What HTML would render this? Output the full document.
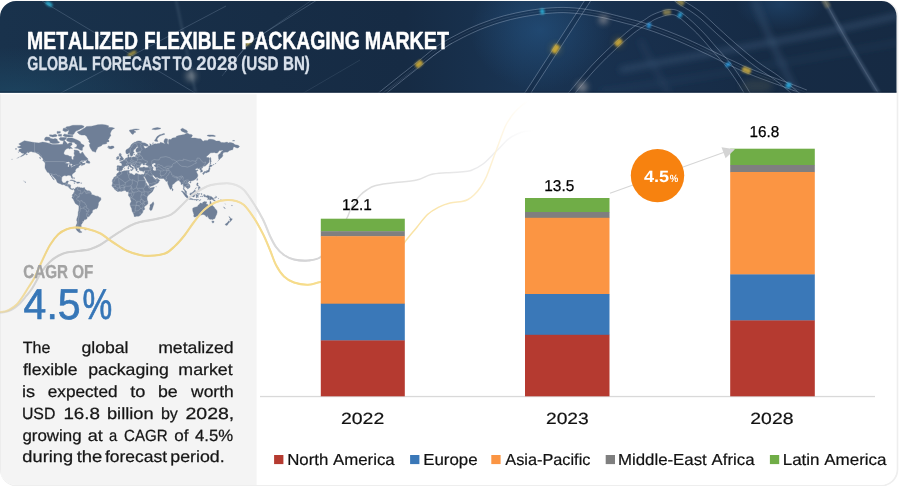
<!DOCTYPE html>
<html lang="en">
<head>
<meta charset="utf-8">
<title>Metalized Flexible Packaging Market</title>
<style>
html,body{margin:0;padding:0;background:#fff;}
body{width:900px;height:486px;overflow:hidden;position:relative;}
svg{display:block;position:absolute;left:0;top:0;}
text{font-family:"Liberation Sans",Arial,sans-serif;font-kerning:none;white-space:pre;text-rendering:geometricPrecision;}
</style>
</head>
<body>
<svg width="900" height="486" viewBox="0 0 900 486">
<defs>
<clipPath id="card"><path d="M0 17A16 16 0 0 1 16 1H881.5A15 15 0 0 1 896.5 16V469A16 16 0 0 1 880.5 485H16A16 16 0 0 1 0 469Z"/></clipPath>
<clipPath id="leftclip"><rect x="0" y="90" width="335" height="300"/></clipPath>
<clipPath id="hdr"><path d="M0 17A16 16 0 0 1 16 1H881.5A15 15 0 0 1 896.5 16V92.7H0Z"/></clipPath>
<linearGradient id="hg" x1="0" y1="0" x2="1" y2="0">
<stop offset="0" stop-color="#19324c"/><stop offset="0.3" stop-color="#172d46"/><stop offset="0.45" stop-color="#162b44"/><stop offset="0.58" stop-color="#193453"/><stop offset="0.72" stop-color="#182f4c"/><stop offset="0.85" stop-color="#162b45"/><stop offset="1" stop-color="#162a43"/>
</linearGradient>
<radialGradient id="glowL" cx="0.05" cy="1" r="0.5"><stop offset="0" stop-color="#1f4f6c" stop-opacity=".55"/><stop offset="1" stop-color="#1f4f6c" stop-opacity="0"/></radialGradient>
<radialGradient id="glowM" cx="0.5" cy="0.5" r="0.5"><stop offset="0" stop-color="#27598a" stop-opacity=".55"/><stop offset="1" stop-color="#27598a" stop-opacity="0"/></radialGradient>
<linearGradient id="gg" gradientUnits="userSpaceOnUse" x1="0" y1="0" x2="540" y2="0"><stop offset="0.000" stop-color="#d2d2d2" stop-opacity="0.45"/><stop offset="0.056" stop-color="#d0d0d0" stop-opacity="0.7"/><stop offset="0.111" stop-color="#cfcfcf" stop-opacity="1"/><stop offset="0.185" stop-color="#d1d1d1" stop-opacity="1"/><stop offset="0.315" stop-color="#d6d6d6" stop-opacity="1"/><stop offset="0.398" stop-color="#e0e0e0" stop-opacity="1"/><stop offset="0.444" stop-color="#e3e3e3" stop-opacity="1"/><stop offset="0.485" stop-color="#dcdcdc" stop-opacity="1"/><stop offset="0.556" stop-color="#d4d4d6" stop-opacity="1"/><stop offset="0.648" stop-color="#dadada" stop-opacity="1"/><stop offset="0.796" stop-color="#e4e4e4" stop-opacity="1"/><stop offset="0.907" stop-color="#ececee" stop-opacity="1"/><stop offset="0.991" stop-color="#f6f6f6" stop-opacity="0"/></linearGradient>
<linearGradient id="yg" gradientUnits="userSpaceOnUse" x1="0" y1="0" x2="540" y2="0"><stop offset="0.000" stop-color="#f0d68a" stop-opacity="0.4"/><stop offset="0.056" stop-color="#f0d68a" stop-opacity="0.65"/><stop offset="0.111" stop-color="#f0d482" stop-opacity="1"/><stop offset="0.185" stop-color="#f2d88c" stop-opacity="1"/><stop offset="0.315" stop-color="#f0d684" stop-opacity="1"/><stop offset="0.398" stop-color="#f3db96" stop-opacity="1"/><stop offset="0.444" stop-color="#f4dd9c" stop-opacity="1"/><stop offset="0.485" stop-color="#f5dc90" stop-opacity="1"/><stop offset="0.556" stop-color="#f6dc8a" stop-opacity="1"/><stop offset="0.648" stop-color="#f8e09a" stop-opacity="1"/><stop offset="0.796" stop-color="#fae4a8" stop-opacity="1"/><stop offset="0.907" stop-color="#fdf0d0" stop-opacity="1"/><stop offset="0.981" stop-color="#fff8ea" stop-opacity="0"/></linearGradient>
<filter id="b1" x="-20%" y="-20%" width="140%" height="140%"><feGaussianBlur stdDeviation="1.2"/></filter>
<filter id="b0" x="-5%" y="-5%" width="110%" height="110%"><feGaussianBlur stdDeviation="0.45"/></filter>
<filter id="b3" x="-20%" y="-20%" width="140%" height="140%"><feGaussianBlur stdDeviation="3"/></filter>
<filter id="b6" x="-30%" y="-30%" width="160%" height="160%"><feGaussianBlur stdDeviation="5"/></filter>
</defs>

<!-- card -->
<path d="M0 17A16 16 0 0 1 16 1H881.5A15 15 0 0 1 896.5 16V469A16 16 0 0 1 880.5 485H16A16 16 0 0 1 0 469Z" transform="translate(0.9 0.6)" fill="#ffffff" stroke="#eeeeee" stroke-width="1.8"/>
<g clip-path="url(#card)">
<rect x="0" y="0" width="900" height="486" fill="#ffffff"/>
<rect x="0" y="94.3" width="256.6" height="392" fill="#f4f4f4"/>
<rect x="0" y="94.3" width="0.7" height="392" fill="#e9e9e9"/>
</g>

<!-- header -->
<g clip-path="url(#hdr)">
<rect x="0" y="0" width="900" height="93" fill="url(#hg)"/>
<rect x="0" y="0" width="300" height="93" fill="url(#glowL)"/>
<ellipse cx="540" cy="30" rx="70" ry="60" fill="url(#glowM)"/>
<ellipse cx="780" cy="4" rx="45" ry="26" fill="url(#glowM)" opacity=".75"/>
<g id="streaks" fill="none">
<!-- blurred wide bands (right) -->
<g filter="url(#b3)" stroke="#3b5878" stroke-opacity=".55" stroke-width="5">
<path d="M620 70C700 54 800 40 900 15" stroke-opacity=".6"/>
<path d="M754 0C766 30 780 62 798 96" stroke-opacity=".5"/>
<path d="M600 92C690 80 800 60 900 42" stroke-opacity=".2"/>
<path d="M640 40C650 60 660 78 670 96" stroke-opacity=".25"/>
</g>
<!-- left thin streaks -->
<g stroke="#9db4cc" stroke-opacity=".28" stroke-width=".9">
<path d="M42 1L195 93"/>
<path d="M57 95L135 54L226 6"/>
<path d="M176 0L196 95" stroke-opacity=".13" stroke-width="3" filter="url(#b1)"/>
<path d="M225 72L250 42L317 0" stroke-width="1"/>
<path d="M222 76L247 45L312 0" stroke-opacity=".2"/>
<path d="M380 95C400 82 425 60 452 43"/>
<path d="M300 95L360 60" stroke-opacity=".15"/>
</g>
<!-- tubes (right half) -->
<path d="M380.0 95.0L382.7 92.8L386.6 89.7L391.1 86.1L395.7 82.4L400.0 79.0L403.8 76.0L407.6 73.0L411.3 70.1L415.1 67.1L419.0 64.0L423.1 60.7L427.2 57.3L431.4 53.9L435.7 50.6L440.0 47.5L444.3 44.7L448.7 42.1L453.2 39.6L457.6 37.3L462.0 35.0L466.3 32.8L470.6 30.8L474.9 28.9L479.3 27.0L484.0 25.2L488.9 23.4L493.9 21.7L499.0 20.0L504.4 18.4L510.0 17.0L515.9 15.6L522.2 14.4L528.6 13.2L534.9 12.2L541.0 11.4L546.7 10.8L552.2 10.4L557.7 10.1L563.1 10.0L568.7 10.2L574.5 10.6L580.3 11.2L586.2 12.0L592.1 13.0L598.0 14.0L603.9 15.2L610.0 16.6L615.9 18.1L621.7 19.6L627.0 21.0L631.7 22.2L635.9 23.3L640.0 24.4L644.2 25.6L649.0 27.2L654.5 29.1L660.5 31.2L666.7 33.6L672.9 36.0L679.0 38.5L685.1 41.1L691.3 43.9L697.4 46.8L703.2 49.5L708.4 52.0L713.0 54.2L717.0 56.1L720.7 58.0L724.3 59.7L728.0 61.5L731.7 63.3L735.4 65.0L739.0 66.7L742.7 68.3L746.5 70.0L750.5 71.6L754.5 73.2L758.6 74.8L762.8 76.4L767.0 78.0L771.3 79.6L775.7 81.2L780.1 82.8L784.4 84.3L788.5 85.8L792.5 87.3L796.6 88.9L800.5 90.4L803.7 91.6L806.0 92.5M522.0 102.0L526.6 94.9L533.2 84.8L540.8 73.0L548.7 60.8L556.0 49.5L563.3 38.2L571.2 26.0L578.8 14.2L585.4 4.1L590.0 -3.0M566.0 100.0L566.7 99.2L567.5 98.1L568.6 96.7L570.3 94.8L572.6 92.0L575.8 88.2L579.8 83.3L584.2 78.1L588.7 72.8L593.0 68.0L597.0 63.8L600.9 59.7L604.9 55.8L608.8 52.1L612.7 48.4L616.7 44.7L620.7 41.0L624.7 37.5L628.5 34.2L632.0 31.3L635.2 28.9L638.2 26.8L641.0 25.1L643.6 23.5L646.0 22.0L648.0 20.6L649.7 19.5L651.3 18.4L652.9 17.5L655.0 16.5L657.6 15.4L660.5 14.3L663.6 13.3L666.6 12.5L669.3 12.1L671.5 12.0L673.5 12.1L675.3 12.5L677.4 13.4L680.0 15.0L683.3 17.4L687.0 20.5L691.0 24.1L694.9 27.7L698.6 31.3L701.9 34.8L705.1 38.3L708.2 41.9L711.2 45.4L714.2 48.8L717.1 52.1L720.0 55.3L722.9 58.5L725.5 61.5L728.0 64.5L730.2 67.3L732.2 70.0L734.1 72.7L735.9 75.3L737.7 78.0L739.6 80.9L741.5 83.9L743.3 86.8L745.0 89.6L746.5 92.0L747.7 94.1L748.8 96.0L749.7 97.7L750.5 99.0L751.0 100.0M672.0 -5.0L672.8 -4.3L673.7 -3.4L675.0 -2.2L676.7 -0.7L679.0 1.0L682.1 3.0L685.9 5.4L690.2 7.9L694.5 10.7L698.6 13.7L702.5 16.9L706.4 20.4L710.2 24.0L714.1 27.7L718.0 31.3L721.9 34.8L725.9 38.4L729.8 41.9L733.8 45.4L737.7 48.8L741.6 52.1L745.4 55.3L749.3 58.5L753.1 61.5L757.0 64.5L761.0 67.3L765.0 70.0L769.0 72.7L773.0 75.3L776.8 78.0L780.6 80.9L784.4 84.0L788.1 87.0L791.3 89.8L794.0 92.0L796.0 93.7L797.5 94.9L798.6 95.8L799.4 96.5L800.0 97.0" stroke="#10223a" stroke-opacity=".28" stroke-width="5"/>
<path d="M381.6 97.0L384.4 94.8L388.2 91.7L392.7 88.1L397.4 84.4L401.6 81.0L405.4 78.0L409.2 75.0L412.9 72.1L416.7 69.1L420.6 66.0L424.7 62.7L428.9 59.3L433.0 55.9L437.3 52.7L441.5 49.7L445.7 46.9L450.0 44.3L454.4 41.9L458.8 39.6L463.2 37.3L467.5 35.2L471.7 33.2L475.9 31.3L480.3 29.4L484.9 27.6L489.7 25.9L494.7 24.1L499.8 22.5L505.1 21.0L510.6 19.5L516.5 18.2L522.7 16.9L529.0 15.8L535.3 14.8L541.3 14.0L547.0 13.4L552.4 13.0L557.7 12.7L563.1 12.6L568.6 12.8L574.2 13.2L580.0 13.8L585.8 14.6L591.7 15.5L597.5 16.6L603.4 17.7L609.3 19.1L615.3 20.6L621.0 22.1L626.3 23.5L631.1 24.7L635.3 25.8L639.2 26.9L643.4 28.1L648.2 29.7L653.6 31.5L659.6 33.7L665.7 36.0L671.9 38.4L678.0 40.9L684.0 43.5L690.2 46.3L696.3 49.1L702.0 51.9L707.3 54.3L711.8 56.5L715.9 58.5L719.6 60.3L723.2 62.1L726.9 63.8L730.6 65.6L734.3 67.3L737.9 69.0L741.6 70.7L745.5 72.4L749.5 74.0L753.6 75.7L757.7 77.3L761.9 78.9L766.1 80.4L770.4 82.0L774.8 83.6L779.3 85.2L783.6 86.8L787.6 88.2L791.6 89.7L795.7 91.3L799.5 92.8L802.7 94.0L805.1 94.9M378.4 93.0L381.1 90.8L385.0 87.7L389.5 84.1L394.1 80.4L398.4 77.0L402.2 73.9L406.0 71.0L409.7 68.0L413.5 65.0L417.4 62.0L421.4 58.7L425.6 55.3L429.8 51.8L434.2 48.5L438.5 45.3L443.0 42.5L447.4 39.8L451.9 37.3L456.4 35.0L460.8 32.7L465.2 30.5L469.5 28.4L473.9 26.5L478.4 24.6L483.1 22.8L488.0 21.0L493.0 19.2L498.3 17.5L503.7 15.9L509.4 14.5L515.4 13.1L521.7 11.8L528.2 10.6L534.6 9.6L540.7 8.8L546.5 8.2L552.1 7.8L557.6 7.5L563.1 7.4L568.8 7.6L574.7 8.0L580.6 8.6L586.6 9.4L592.6 10.4L598.5 11.4L604.5 12.7L610.6 14.1L616.6 15.6L622.3 17.1L627.7 18.5L632.4 19.7L636.6 20.8L640.7 21.9L645.0 23.2L649.8 24.7L655.4 26.6L661.4 28.8L667.6 31.1L673.9 33.6L680.0 36.1L686.1 38.7L692.4 41.6L698.5 44.4L704.3 47.2L709.5 49.7L714.1 51.8L718.1 53.8L721.9 55.6L725.4 57.4L729.1 59.2L732.9 60.9L736.5 62.6L740.1 64.3L743.7 66.0L747.5 67.6L751.4 69.2L755.5 70.8L759.6 72.4L763.7 74.0L767.9 75.6L772.2 77.1L776.6 78.7L781.0 80.3L785.3 81.9L789.4 83.4L793.5 84.9L797.6 86.5L801.4 87.9L804.6 89.2L806.9 90.1M524.2 103.4L528.8 96.3L535.3 86.2L543.0 74.4L550.8 62.3L558.2 50.9L565.5 39.6L573.4 27.4L581.0 15.6L587.6 5.6L592.2 -1.6M519.8 100.6L524.4 93.4L531.0 83.4L538.6 71.6L546.5 59.4L553.8 48.1L561.2 36.7L569.0 24.6L576.7 12.8L583.2 2.7L587.8 -4.4M568.0 101.6L568.7 100.8L569.5 99.8L570.7 98.4L572.3 96.4L574.6 93.7L577.8 89.8L581.8 85.0L586.2 79.7L590.7 74.5L594.9 69.8L598.9 65.6L602.8 61.6L606.7 57.7L610.6 54.0L614.5 50.3L618.4 46.6L622.4 42.9L626.4 39.4L630.2 36.2L633.6 33.3L636.7 31.0L639.6 29.0L642.4 27.3L645.0 25.7L647.4 24.2L649.5 22.8L651.2 21.6L652.6 20.6L654.1 19.8L656.0 18.9L658.5 17.8L661.4 16.8L664.3 15.8L667.1 15.0L669.6 14.7L671.5 14.6L673.1 14.7L674.5 15.0L676.2 15.7L678.5 17.2L681.7 19.4L685.3 22.5L689.2 26.0L693.2 29.6L696.8 33.1L700.0 36.5L703.2 40.0L706.3 43.6L709.3 47.1L712.2 50.5L715.2 53.8L718.1 57.1L720.9 60.2L723.6 63.2L726.0 66.1L728.1 68.9L730.1 71.6L731.9 74.2L733.7 76.8L735.5 79.4L737.4 82.3L739.3 85.2L741.1 88.2L742.8 90.9L744.3 93.3L745.5 95.4L746.6 97.3L747.4 98.9L748.2 100.2L748.7 101.2M564.0 98.4L564.7 97.5L565.5 96.5L566.6 95.1L568.3 93.1L570.6 90.3L573.8 86.5L577.8 81.7L582.2 76.4L586.8 71.1L591.1 66.2L595.1 62.0L599.1 57.9L603.1 54.0L607.0 50.2L610.9 46.5L614.9 42.8L619.0 39.1L623.0 35.5L626.8 32.2L630.4 29.3L633.7 26.8L636.8 24.7L639.6 22.9L642.2 21.3L644.6 19.8L646.6 18.5L648.2 17.3L649.9 16.2L651.7 15.2L654.0 14.1L656.6 13.0L659.6 11.9L662.8 10.8L666.1 9.9L669.0 9.5L671.5 9.4L673.8 9.5L676.2 10.1L678.6 11.1L681.5 12.8L684.9 15.3L688.7 18.5L692.8 22.1L696.7 25.9L700.4 29.5L703.8 33.0L707.1 36.6L710.2 40.2L713.2 43.7L716.2 47.1L719.1 50.4L722.0 53.6L724.8 56.7L727.5 59.8L730.0 62.9L732.3 65.8L734.3 68.5L736.2 71.2L738.0 73.8L739.9 76.6L741.8 79.5L743.7 82.5L745.5 85.4L747.2 88.2L748.7 90.7L750.0 92.8L751.1 94.7L752.0 96.4L752.7 97.8L753.3 98.8M670.2 -3.1L670.9 -2.4L671.9 -1.5L673.2 -0.2L675.1 1.3L677.5 3.1L680.7 5.2L684.6 7.6L688.8 10.1L693.0 12.9L697.0 15.8L700.8 18.9L704.6 22.3L708.4 25.9L712.3 29.6L716.2 33.2L720.2 36.8L724.1 40.3L728.1 43.9L732.1 47.4L736.0 50.8L739.9 54.1L743.8 57.3L747.6 60.5L751.5 63.6L755.5 66.6L759.5 69.5L763.6 72.2L767.6 74.8L771.5 77.4L775.3 80.1L779.0 83.0L782.8 86.0L786.4 89.0L789.7 91.8L792.3 94.0L794.4 95.7L795.8 96.9L796.9 97.8L797.7 98.5L798.3 99.0M673.8 -6.9L674.6 -6.2L675.5 -5.2L676.7 -4.1L678.3 -2.8L680.5 -1.1L683.5 0.8L687.3 3.1L691.6 5.7L696.0 8.6L700.2 11.6L704.2 14.9L708.1 18.5L712.0 22.1L715.9 25.8L719.8 29.4L723.7 32.9L727.6 36.5L731.6 40.0L735.5 43.5L739.4 46.8L743.3 50.1L747.1 53.3L750.9 56.4L754.7 59.5L758.5 62.4L762.4 65.2L766.4 67.9L770.5 70.5L774.5 73.2L778.3 75.9L782.2 78.9L786.1 82.0L789.7 85.0L793.0 87.8L795.7 90.0L797.7 91.7L799.2 92.9L800.2 93.8L801.0 94.5L801.7 95.0" stroke="#b4c6da" stroke-opacity=".36" stroke-width="1" filter="url(#b0)"/>
<path d="M380.0 95.0L382.7 92.8L386.6 89.7L391.1 86.1L395.7 82.4L400.0 79.0L403.8 76.0L407.6 73.0L411.3 70.1L415.1 67.1L419.0 64.0L423.1 60.7L427.2 57.3L431.4 53.9L435.7 50.6L440.0 47.5L444.3 44.7L448.7 42.1L453.2 39.6L457.6 37.3L462.0 35.0L466.3 32.8L470.6 30.8L474.9 28.9L479.3 27.0L484.0 25.2L488.9 23.4L493.9 21.7L499.0 20.0L504.4 18.4L510.0 17.0L515.9 15.6L522.2 14.4L528.6 13.2L534.9 12.2L541.0 11.4L546.7 10.8L552.2 10.4L557.7 10.1L563.1 10.0L568.7 10.2L574.5 10.6L580.3 11.2L586.2 12.0L592.1 13.0L598.0 14.0L603.9 15.2L610.0 16.6L615.9 18.1L621.7 19.6L627.0 21.0L631.7 22.2L635.9 23.3L640.0 24.4L644.2 25.6L649.0 27.2L654.5 29.1L660.5 31.2L666.7 33.6L672.9 36.0L679.0 38.5L685.1 41.1L691.3 43.9L697.4 46.8L703.2 49.5L708.4 52.0L713.0 54.2L717.0 56.1L720.7 58.0L724.3 59.7L728.0 61.5L731.7 63.3L735.4 65.0L739.0 66.7L742.7 68.3L746.5 70.0L750.5 71.6L754.5 73.2L758.6 74.8L762.8 76.4L767.0 78.0L771.3 79.6L775.7 81.2L780.1 82.8L784.4 84.3L788.5 85.8L792.5 87.3L796.6 88.9L800.5 90.4L803.7 91.6L806.0 92.5" stroke="#b4c6da" stroke-opacity=".14" stroke-width=".8"/>
<path d="M822.0 -4.0L825.8 2.8L831.1 12.4L837.3 23.6L843.8 35.2L850.0 46.0L856.4 56.8L863.3 68.4L870.1 79.6L875.9 89.2L880.0 96.0" stroke="#6c86a3" stroke-opacity=".3" stroke-width="5" filter="url(#b1)"/>
<path d="M822.0 -4.0L825.8 2.8L831.1 12.4L837.3 23.6L843.8 35.2L850.0 46.0L856.4 56.8L863.3 68.4L870.1 79.6L875.9 89.2L880.0 96.0" stroke="#9fb2c6" stroke-opacity=".18" stroke-width="1.2"/>
</g>
<!-- light spots -->
<g filter="url(#b1)">
<ellipse cx="49" cy="4" rx="4" ry="2" fill="#35c4e8" opacity=".8" transform="rotate(31 49 4)"/>
<ellipse cx="132" cy="53.5" rx="5" ry="1.8" fill="#e7c23e" opacity=".65" transform="rotate(-28 132 53.5)"/>
<ellipse cx="249" cy="42" rx="5" ry="2" fill="#e7c23e" opacity=".75" transform="rotate(-48 249 42)"/>
<g opacity=".78">
<rect x="-4" y="-2.8" width="8" height="5.6" rx="1.5" fill="#e9be35" transform="translate(419 64) rotate(-39)"/>
<rect x="-2" y="-2.8" width="4" height="5.6" rx="1.2" fill="#2fc0ea" transform="translate(542.3 11.5) rotate(-8)"/>
<rect x="-2" y="-2.8" width="4" height="5.6" rx="1.2" fill="#2f9fea" transform="translate(649 25.4) rotate(18)"/>
<rect x="-4.5" y="-2.8" width="9" height="5.6" rx="1.5" fill="#ddb840" transform="translate(746.5 70.3) rotate(22)"/>
<rect x="-2.6" y="-2.8" width="5.2" height="5.6" rx="1.2" fill="#2fbaf0" transform="translate(788.5 85.4) rotate(22)"/>
<rect x="-4.5" y="-2.8" width="9" height="5.6" rx="1.5" fill="#eec033" transform="translate(555.6 48.9) rotate(-57)"/>
<rect x="-4" y="-2.8" width="8" height="5.6" rx="1.5" fill="#e6bb38" transform="translate(618.5 42.5) rotate(-44)"/>
<rect x="-4" y="-2.6" width="8" height="5.2" rx="1.5" fill="#d5bb58" opacity=".7" transform="translate(667 12.3) rotate(-6)"/>
<rect x="-2" y="-2.8" width="4" height="5.6" rx="1.2" fill="#2fb2ee" transform="translate(680 15) rotate(30)"/>
<rect x="-2" y="-2.8" width="4" height="5.6" rx="1.2" fill="#2fa6ee" transform="translate(728 64.5) rotate(52)"/>
<rect x="-4" y="-2.6" width="8" height="5.2" rx="1.5" fill="#d9bd55" opacity=".75" transform="translate(680.5 2) rotate(36)"/>
<rect x="-5" y="-3" width="10" height="6" rx="1.5" fill="#b9a566" opacity=".45" transform="translate(826 3) rotate(60)"/>
</g>
</g>
<rect x="0" y="91.3" width="900" height="1.5" fill="#0d1e33" opacity=".45"/>
<g filter="url(#b3)">
<circle cx="191" cy="76" r="4.5" fill="#e8e4da" opacity=".5"/>
<circle cx="603.5" cy="19.6" r="3.6" fill="#ecd8cc" opacity=".65"/>
<circle cx="582" cy="87" r="5" fill="#ecdccf" opacity=".5"/>
<circle cx="555.6" cy="48.9" r="5" fill="#eec033" opacity=".25"/>
<circle cx="618.5" cy="42.5" r="5" fill="#eec033" opacity=".2"/>
<ellipse cx="757" cy="86" rx="16" ry="7" fill="#6d6a55" opacity=".25"/>
</g>
</g>

<!-- world map -->
<g>
<path d="M17.4 146.9L21.2 145.8L18.7 144.0L24.4 140.7L30.0 141.8L34.5 142.6L38.9 142.9L42.7 142.1L45.8 142.6L49.6 143.5L52.1 144.5L55.2 144.6L59.0 144.5L62.8 144.3L63.4 142.1L64.0 140.1L65.9 142.1L67.8 144.3L69.0 142.9L71.5 142.6L72.2 144.8L69.7 146.4L68.4 148.1L66.2 149.0L64.6 150.8L63.7 153.3L65.0 154.9L67.8 155.3L69.7 156.3L71.5 156.6L71.4 158.3L72.5 159.7L73.4 159.5L73.4 157.0L74.7 155.7L74.0 153.3L74.4 151.7L74.0 150.0L77.2 150.3L79.1 151.2L79.4 153.1L80.9 153.7L81.9 152.2L82.5 151.9L84.1 154.4L85.3 156.2L87.2 157.9L88.0 159.1L85.9 160.6L83.4 160.6L81.6 160.6L79.7 161.9L78.7 163.1L80.9 161.8L82.5 161.5L82.2 162.7L82.8 163.7L84.7 163.1L85.3 163.9L84.4 164.5L82.8 165.1L81.6 165.8L81.6 165.0L82.5 164.3L80.9 164.7L79.7 165.4L78.7 165.9L78.7 166.9L79.1 167.2L77.8 167.5L76.5 167.9L76.4 168.7L75.6 169.8L75.3 170.5L75.5 171.6L74.7 172.2L73.4 173.2L72.2 174.3L72.0 175.7L72.8 177.4L72.6 178.5L71.9 178.3L71.1 176.9L71.1 176.0L70.3 175.4L69.0 175.2L67.8 175.2L66.8 175.9L65.9 175.8L64.3 175.6L63.4 175.9L62.1 176.7L61.8 178.3L61.6 180.3L62.1 181.6L62.8 182.6L63.7 183.1L65.3 182.8L66.1 182.2L66.3 181.3L67.8 180.9L68.5 181.1L68.0 182.2L67.8 183.2L67.4 184.5L69.0 184.6L70.7 185.1L70.5 186.7L70.5 187.6L71.2 188.6L72.2 189.0L73.0 188.5L74.4 189.1L74.5 189.5L73.9 189.3L73.1 188.9L72.6 189.8L71.9 189.6L70.9 189.3L69.8 188.4L69.2 188.0L68.1 186.3L66.8 186.1L65.6 185.7L64.0 184.5L62.4 184.7L61.2 184.3L60.3 183.8L58.7 183.2L57.1 182.2L56.7 181.0L56.2 179.8L55.2 178.7L54.3 177.7L53.7 176.9L52.5 176.0L52.1 174.7L51.0 174.2L51.1 175.4L52.1 176.5L52.7 177.4L53.3 178.3L54.0 179.3L54.3 180.0L53.8 179.8L52.7 178.7L52.5 177.8L51.5 176.9L51.3 176.2L50.4 175.2L49.5 173.7L48.6 172.6L47.4 172.3L46.6 170.9L46.1 170.0L45.3 168.7L45.0 167.6L45.0 166.3L45.2 163.7L44.7 162.0L46.1 162.3L45.8 161.4L44.5 160.5L43.0 159.5L42.7 158.3L41.4 157.0L40.4 156.2L39.5 154.9L38.2 153.7L37.3 153.5L36.4 152.9L35.1 152.3L32.6 152.1L31.3 151.4L29.7 151.7L29.1 152.4L27.8 152.8L28.2 151.4L26.9 152.6L26.3 153.5L24.7 154.6L23.4 155.5L21.8 156.3L20.3 156.8L21.5 155.7L23.4 154.4L24.2 153.3L22.5 153.3L21.2 152.8L20.9 151.9L19.3 151.5L18.8 150.3L19.4 149.3L21.2 148.8L21.8 147.9L20.6 147.9L18.7 147.8ZM45.5 162.0L44.2 161.7L42.5 160.2L43.3 160.1L44.5 160.7L45.4 161.5ZM82.2 150.5L80.3 150.0L77.8 148.6L74.4 147.9L76.5 146.9L77.2 144.8L75.3 143.7L74.0 142.3L71.5 142.2L69.0 141.8L66.8 140.8L66.5 139.3L67.8 137.9L69.7 138.0L72.2 137.9L74.7 138.9L77.8 140.3L80.3 141.8L80.9 143.4L82.8 144.6L84.1 145.3L84.1 146.4L82.2 147.2L83.1 147.8L82.2 148.8L82.5 149.6ZM50.5 142.8L52.7 143.6L55.2 143.4L57.7 143.3L59.0 142.9L59.6 142.1L57.7 141.3L57.1 139.3L55.2 138.5L53.3 139.1L50.8 138.4L48.9 139.3L48.3 140.4L50.2 141.6L49.6 142.2ZM44.5 139.9L45.8 140.8L47.7 140.4L49.6 139.1L50.5 138.1L49.3 137.3L46.4 136.9L44.9 137.8ZM84.1 126.2L81.6 125.3L77.8 125.2L72.8 125.3L69.0 126.5L66.5 126.8L65.3 128.6L67.8 129.3L69.0 131.1L68.4 132.1L67.8 134.3L70.3 134.5L72.8 134.7L74.0 133.8L74.7 132.6L75.9 131.1L78.4 130.1L80.3 128.9L83.4 127.6ZM68.1 130.8L65.3 131.8L62.8 130.4L63.4 128.3L65.9 127.9L67.8 129.4ZM72.8 136.7L69.0 137.0L65.3 136.7L62.8 135.6L64.6 134.0L67.2 134.7L70.3 135.3L72.8 135.4ZM56.5 136.4L52.7 136.9L49.6 136.1L49.6 134.7L52.7 134.9L55.2 134.3L57.1 135.3ZM64.6 139.9L62.8 140.7L60.3 140.2L59.0 138.7L60.3 137.6L62.8 137.5L64.6 137.4L66.5 137.5L66.2 138.9ZM61.5 136.3L58.4 136.1L58.4 134.4L61.5 134.2ZM60.3 132.9L57.1 133.4L57.1 131.4L60.3 131.4ZM72.5 148.8L70.9 148.2L69.3 149.1L68.4 148.1L69.3 146.6L70.3 146.4L71.5 147.6ZM85.8 162.6L88.1 163.2L89.7 163.3L89.9 162.5L89.4 161.3L87.9 160.7L88.1 159.5L87.0 160.2L86.2 161.5ZM69.7 180.7L70.9 180.0L72.5 179.9L73.7 180.4L74.7 180.8L75.9 181.5L76.4 181.8L74.2 182.0L74.0 181.5L72.8 180.8L71.5 180.4L70.3 180.6ZM76.3 182.9L77.2 182.0L79.1 182.0L80.1 182.8L78.7 183.1L78.0 183.4L76.9 183.1ZM73.9 182.9L75.1 183.1L74.7 183.3L73.9 183.2ZM80.8 182.9L81.8 182.9L81.7 183.2L80.8 183.2ZM95.3 152.3L94.0 151.5L92.5 151.2L91.5 149.8L90.6 148.4L89.7 146.4L89.4 144.8L90.3 143.2L88.7 141.8L89.1 140.4L87.8 138.7L86.6 136.3L84.7 135.1L81.6 135.1L79.7 134.4L78.4 133.4L77.2 132.1L80.3 130.8L82.2 129.4L84.7 128.0L86.6 126.5L91.5 126.2L94.7 125.6L97.8 124.7L102.1 124.4L105.9 124.9L109.0 126.1L107.8 127.3L112.1 127.6L114.6 128.3L112.1 129.7L110.9 131.8L110.2 133.8L110.9 135.7L109.6 136.9L109.0 138.7L107.8 139.5L109.0 140.4L109.0 141.7L106.5 141.9L107.1 143.2L105.3 144.0L102.8 144.3L101.5 145.7L99.7 146.6L97.8 147.2L97.2 148.8L96.2 150.3L95.9 151.8ZM107.6 146.9L108.7 145.9L110.2 146.6L111.5 146.1L113.4 146.0L114.2 147.4L113.4 148.1L111.2 148.9L108.7 148.6L109.0 147.6L107.8 147.4ZM74.5 189.2L75.3 188.5L75.6 187.8L76.5 187.5L77.5 187.1L78.0 186.7L78.2 187.4L79.1 187.0L80.1 187.8L81.6 187.8L82.8 188.0L84.1 187.8L84.7 188.5L85.3 189.2L86.2 190.1L87.2 190.7L89.1 190.8L90.3 191.4L90.9 192.2L91.5 193.6L91.4 194.4L92.5 194.8L93.4 194.9L94.7 195.4L95.6 195.9L96.9 196.2L97.8 196.2L98.7 196.7L99.7 197.4L100.7 197.7L101.0 199.3L100.6 200.3L99.7 201.2L98.8 202.3L98.4 203.4L98.4 205.0L98.0 205.9L97.8 206.9L97.2 208.2L96.5 208.8L95.6 208.8L94.7 209.2L93.7 209.6L92.8 210.3L92.4 211.1L92.4 212.4L91.5 213.3L90.9 214.1L90.2 215.0L89.4 216.2L88.4 216.8L87.5 216.7L86.4 216.2L87.1 217.2L87.2 217.9L86.7 219.0L85.6 219.6L84.1 219.7L83.9 221.2L82.2 221.2L83.0 222.3L82.1 223.0L81.9 224.1L80.6 224.9L81.6 226.1L80.9 227.1L79.7 228.5L80.1 229.9L80.1 230.5L81.2 231.8L82.1 232.0L81.2 232.4L80.3 232.6L79.1 232.4L78.1 231.5L76.9 230.5L76.2 229.3L75.6 228.1L75.9 226.5L76.2 225.3L76.9 223.8L77.2 221.9L76.7 220.4L76.8 219.0L77.4 217.2L78.0 215.5L78.1 213.8L78.2 212.1L78.7 210.5L78.9 208.2L78.9 205.9L78.1 205.2L76.9 204.5L75.6 203.7L75.0 202.8L74.5 201.8L73.9 200.6L73.3 199.3L72.8 198.5L72.0 198.1L72.0 197.2L72.6 196.4L72.2 195.6L72.4 194.9L72.8 194.1L73.5 193.5L73.7 192.8L74.5 191.9L74.4 191.0L74.4 190.3L74.1 189.9ZM119.0 171.4L120.2 171.8L121.4 171.8L122.7 171.3L123.6 170.9L124.5 170.7L125.8 170.7L127.0 170.5L128.3 170.4L129.0 170.3L129.5 170.5L129.2 171.2L129.0 172.3L129.5 173.0L130.1 173.4L130.7 173.4L132.2 173.8L132.9 174.5L133.8 175.0L134.8 175.1L135.1 174.5L135.1 173.9L136.0 173.4L136.9 173.6L138.2 174.2L139.4 174.5L140.6 174.7L141.6 174.4L142.2 174.3L142.7 174.5L142.8 175.4L143.2 176.5L143.7 177.4L144.2 178.3L144.7 179.3L145.3 180.4L145.7 181.3L145.8 182.6L146.5 183.3L147.0 184.8L147.8 185.2L148.7 186.0L149.4 186.7L149.5 187.3L150.2 187.9L151.5 187.7L152.7 187.5L154.4 187.1L154.2 188.0L153.8 188.8L153.3 189.8L152.9 190.7L152.4 191.6L151.5 192.6L150.5 193.3L149.6 194.0L148.7 195.0L148.1 195.6L147.6 196.1L147.1 197.2L146.8 198.3L147.1 199.3L147.3 200.6L147.8 201.0L147.8 202.1L147.9 203.4L147.4 204.3L146.5 205.1L145.5 205.8L144.4 206.8L144.2 207.5L144.7 208.5L144.6 209.5L143.4 210.3L142.9 210.8L143.0 211.8L142.5 212.8L141.8 213.6L141.0 214.6L140.0 215.5L139.1 216.0L138.5 216.2L137.2 216.2L136.3 216.3L135.1 216.7L134.1 216.4L134.0 215.1L133.5 213.8L132.9 212.4L132.2 211.4L131.9 210.1L131.7 208.5L131.0 207.2L130.4 205.8L130.0 204.7L130.3 203.1L131.1 202.0L131.2 200.9L130.7 200.0L130.4 198.6L130.2 197.8L129.6 196.9L128.7 195.9L128.3 195.0L128.6 194.1L128.6 193.2L128.7 192.4L128.3 191.7L127.3 191.7L126.4 191.7L125.8 190.8L125.3 190.5L124.2 190.5L123.3 190.8L122.4 191.1L121.4 191.4L120.5 191.3L119.3 191.3L118.0 191.7L117.1 191.2L116.1 190.4L115.4 190.0L114.6 189.2L114.2 188.4L113.5 187.7L113.0 187.1L112.3 186.7L112.3 186.0L111.8 185.3L112.2 184.6L112.5 183.8L112.7 182.9L112.5 182.1L112.1 181.3L112.4 180.3L112.7 179.5L113.4 178.7L113.7 177.8L114.5 176.9L115.2 176.6L116.0 176.2L116.6 175.5L116.6 174.3L117.1 173.5L118.0 172.9L118.6 172.4ZM153.2 201.8L153.7 203.1L153.9 204.0L153.4 205.3L152.9 206.9L152.3 208.8L151.8 210.1L150.7 210.5L149.9 210.0L149.5 208.8L149.7 207.7L150.2 206.9L149.9 205.9L150.1 204.7L151.1 204.2L151.9 203.6L152.4 202.8ZM117.1 170.5L116.8 169.3L117.1 168.4L117.2 167.3L116.9 166.2L117.7 165.6L118.9 165.7L120.2 165.9L121.6 165.9L121.9 165.0L121.9 163.9L121.2 163.0L119.9 162.4L119.8 161.9L120.8 161.7L121.7 161.8L121.6 161.0L122.0 161.2L122.8 161.1L123.7 160.1L124.2 159.9L124.8 159.6L125.3 158.9L125.6 158.3L126.5 157.9L127.1 157.8L128.0 157.5L128.1 156.8L127.8 156.2L127.8 154.9L128.6 154.7L129.2 154.2L129.1 155.3L128.9 156.2L128.7 156.8L129.5 157.4L130.4 157.1L131.4 157.4L132.9 157.0L134.1 156.8L134.8 157.1L135.7 156.6L135.7 155.3L136.1 154.4L136.9 154.9L137.7 154.6L137.7 153.7L137.2 152.9L138.5 152.6L140.0 152.6L141.3 152.2L140.3 151.6L138.8 151.8L137.5 152.2L136.6 152.2L135.9 151.2L135.9 149.8L136.6 148.6L137.9 147.6L138.4 146.9L137.5 146.6L136.3 146.9L135.9 147.9L135.1 148.8L133.8 149.8L133.4 150.8L133.3 151.7L134.3 152.2L133.8 153.1L133.1 153.5L132.9 154.4L132.6 155.6L131.5 156.2L130.7 156.3L130.5 155.6L130.1 154.4L129.7 153.3L129.3 152.8L128.6 153.3L127.6 153.9L126.7 153.9L126.1 153.3L125.8 152.2L125.8 150.9L126.0 150.1L126.7 149.5L127.9 148.8L128.9 148.2L129.5 147.4L130.4 146.4L131.0 145.1L131.7 144.3L132.6 143.5L133.5 142.9L134.5 142.3L135.7 142.0L136.9 141.2L138.7 140.9L140.0 141.0L141.9 141.8L141.3 142.4L143.1 142.8L145.0 143.0L146.8 144.1L148.1 144.8L148.2 145.8L146.8 146.3L145.0 145.9L143.4 145.6L144.0 147.1L144.4 148.1L145.6 148.5L146.2 147.9L147.4 147.8L147.8 146.6L149.0 145.9L149.9 146.0L150.0 144.8L149.6 143.7L151.1 144.3L151.5 145.4L152.4 144.7L153.6 144.3L155.2 143.7L156.1 144.1L157.0 143.7L158.2 143.6L159.5 143.4L160.4 142.3L161.9 142.7L162.9 143.0L164.1 143.4L165.3 143.9L164.7 142.9L164.1 142.4L163.9 141.0L165.0 138.8L166.3 138.7L167.5 138.9L167.6 140.7L167.2 142.7L167.5 143.7L168.3 144.5L168.7 143.2L168.4 141.0L168.9 139.3L170.3 139.6L170.9 139.6L172.4 138.1L174.3 137.8L176.1 137.5L176.4 136.3L178.9 135.6L181.3 135.1L183.2 134.7L184.4 134.4L187.0 132.9L188.1 133.4L189.3 134.2L191.1 134.4L192.4 135.1L191.8 136.9L190.5 137.8L192.7 138.1L194.2 137.9L195.4 138.1L197.3 138.5L198.8 138.7L200.3 138.7L201.5 139.5L202.5 141.0L203.4 141.2L204.6 140.4L206.4 140.4L207.7 140.4L208.9 139.3L210.7 139.3L212.6 139.5L214.4 139.9L215.6 140.7L216.2 141.1L218.0 141.0L219.3 141.0L221.1 142.4L222.9 142.6L224.1 142.7L226.0 142.3L227.5 142.1L227.8 143.2L229.6 142.4L231.4 142.7L233.3 143.3L235.1 144.8L236.9 145.1L238.1 145.3L239.5 146.4L238.7 147.4L237.7 148.0L236.3 147.7L234.8 146.9L233.9 146.8L233.3 147.4L233.0 148.8L232.7 149.8L231.4 149.9L230.5 150.3L229.6 150.5L228.4 151.4L227.2 152.2L226.0 152.0L224.7 152.2L223.8 152.3L222.9 153.5L222.6 154.4L222.9 155.5L222.3 156.8L221.1 158.1L220.2 158.5L219.1 159.9L218.7 158.7L218.5 157.0L218.3 155.3L219.0 154.2L220.2 153.5L221.1 151.9L222.3 150.9L223.2 150.0L222.3 150.0L221.1 150.5L219.6 150.6L218.7 151.2L218.0 152.6L216.8 153.0L215.6 152.9L214.4 152.4L212.6 152.7L210.7 152.8L209.5 153.7L208.3 154.9L207.1 155.9L206.1 156.9L207.4 157.6L208.6 157.4L209.5 158.3L209.7 159.1L209.2 159.9L209.2 160.9L209.1 161.9L208.5 162.9L208.0 163.5L207.2 164.3L206.4 165.0L205.5 165.8L204.6 166.3L204.0 166.0L203.2 166.5L202.7 167.3L202.5 168.0L201.5 168.4L201.2 168.9L201.9 169.6L202.4 170.5L202.5 171.4L202.2 171.9L201.2 172.1L200.6 172.3L200.6 171.2L200.8 170.5L200.3 170.0L199.7 169.8L199.9 168.7L199.3 168.4L198.2 168.7L197.5 169.2L197.9 168.2L197.3 167.7L196.2 168.7L195.3 169.1L195.4 169.8L196.0 170.3L197.1 170.0L198.2 170.4L197.3 170.9L196.8 171.2L196.2 171.9L196.8 172.6L197.1 173.4L197.8 174.2L197.6 174.8L197.9 175.4L197.7 176.4L197.1 177.4L196.5 178.3L195.7 178.9L195.0 179.6L194.2 180.0L193.1 180.4L192.1 180.8L191.1 181.0L190.6 181.7L190.4 181.0L189.5 180.9L188.6 181.4L188.0 182.6L188.4 183.5L189.0 184.1L189.8 184.8L190.1 186.0L190.0 187.3L189.0 187.9L188.5 188.4L187.5 189.0L187.5 188.2L186.8 187.9L186.2 187.6L185.9 187.0L185.0 186.5L184.8 186.0L184.4 186.2L184.3 187.3L184.0 188.2L184.1 188.8L184.6 189.5L185.0 190.2L185.8 190.6L186.5 191.6L186.5 192.7L187.0 193.5L186.5 193.5L185.6 192.9L185.2 192.6L184.8 191.6L184.6 190.7L184.1 190.3L183.5 189.5L183.3 188.5L183.5 187.6L183.5 186.7L183.2 185.7L183.0 184.8L182.9 184.1L182.2 183.9L181.6 184.5L181.0 184.5L181.0 183.5L180.9 182.7L180.4 182.0L179.8 181.4L179.5 181.0L179.2 180.2L178.6 180.3L177.9 180.7L177.3 180.8L176.4 181.1L176.3 181.7L175.5 182.1L174.6 182.9L173.5 184.0L172.7 184.5L172.3 184.9L172.2 185.7L172.3 186.3L172.0 187.3L172.0 188.0L171.5 188.7L171.0 188.9L170.6 189.4L169.9 188.8L169.8 188.2L169.2 187.1L168.9 186.3L168.6 185.4L168.1 184.5L167.8 183.5L167.7 182.6L167.6 181.3L167.4 180.8L166.6 181.4L165.9 181.3L165.3 180.5L166.1 180.0L165.3 180.1L165.0 179.7L164.4 179.4L164.1 178.8L163.5 178.4L162.3 178.5L161.0 178.5L159.8 178.4L158.6 178.3L157.9 177.5L157.3 177.3L156.4 177.6L155.5 177.4L154.9 176.8L154.1 176.0L153.7 175.2L152.9 175.1L152.4 175.7L152.8 176.6L153.5 177.4L153.7 177.8L153.7 178.5L154.1 178.7L154.4 178.0L154.6 178.5L154.5 179.1L155.2 179.2L156.1 179.3L156.8 178.5L157.4 177.9L157.6 179.0L158.2 179.5L159.0 179.6L159.7 180.3L159.2 181.3L158.6 181.7L158.4 182.6L157.6 183.2L156.7 183.6L156.1 183.9L155.0 184.5L153.6 185.2L152.7 185.7L151.5 186.1L150.5 186.5L149.6 186.5L149.2 185.4L149.1 184.5L148.7 183.5L148.1 182.6L147.4 181.8L146.9 181.0L146.5 180.0L145.9 179.0L145.4 178.0L144.7 177.0L144.2 176.4L144.3 175.7L143.9 176.8L143.3 176.3L142.9 175.4L142.8 174.5L143.4 174.6L143.9 174.4L144.2 173.8L144.4 173.3L144.7 172.4L144.9 171.6L145.0 171.1L145.1 170.7L144.4 170.8L143.7 171.0L142.8 171.2L141.9 170.7L141.4 171.0L140.6 170.8L139.7 170.6L139.6 170.0L139.0 169.6L139.3 168.9L138.9 168.7L139.0 168.3L139.7 168.1L140.6 167.9L140.8 167.6L142.2 167.5L143.4 166.9L144.4 166.9L145.3 167.4L146.5 167.6L147.4 167.6L148.4 167.3L148.4 166.6L147.8 166.0L147.1 165.6L146.2 165.0L145.6 164.7L145.9 163.9L146.5 163.3L146.9 163.0L145.9 163.1L145.0 163.4L144.4 163.7L144.5 164.3L145.3 164.4L144.5 164.7L143.7 165.1L143.4 165.0L142.8 164.3L143.4 163.9L142.6 163.6L141.7 163.5L141.1 164.4L140.5 165.2L140.1 165.9L139.8 166.5L140.1 167.1L140.6 167.5L140.0 167.6L139.4 167.8L139.0 168.2L138.8 167.8L137.9 167.7L137.4 168.2L136.9 168.1L136.7 168.5L136.9 168.9L137.2 169.6L137.5 169.8L137.5 170.0L136.9 169.9L137.1 170.5L136.8 170.9L136.5 170.8L136.1 170.7L135.8 170.0L136.0 169.6L135.4 168.9L135.1 168.6L134.7 168.0L134.7 167.3L134.6 166.9L134.0 166.5L133.2 166.0L132.6 165.7L132.1 165.2L131.7 164.5L131.2 164.7L131.2 164.2L130.4 164.4L130.4 165.3L131.1 165.8L131.5 166.5L132.1 167.0L132.6 167.1L133.3 167.7L134.1 168.3L134.0 168.5L133.2 168.0L133.0 168.5L133.3 169.1L132.9 169.5L132.5 169.9L132.5 169.4L132.7 168.9L132.4 168.4L131.8 167.9L131.4 167.6L130.7 167.4L130.3 167.1L129.6 166.6L129.2 166.2L129.0 165.5L128.3 165.1L127.6 165.5L127.2 165.6L126.4 166.1L125.8 165.9L125.2 165.8L124.6 166.1L124.7 166.7L124.0 167.3L123.3 167.6L123.0 168.0L122.5 168.7L122.7 169.3L122.2 170.0L121.4 170.7L120.5 170.7L119.9 170.7L119.3 171.2L118.8 170.7L118.2 170.4ZM119.3 160.7L120.5 160.5L121.4 160.3L122.7 160.1L123.5 159.8L123.2 159.4L123.7 158.5L122.9 158.3L122.8 157.8L122.5 157.3L121.9 156.6L121.4 155.7L120.9 155.4L121.4 154.4L120.3 154.2L120.7 153.4L119.6 153.4L119.1 154.4L119.3 155.7L119.7 156.6L120.7 156.7L120.8 157.7L120.8 158.0L119.9 158.0L120.1 158.9L119.4 159.3L120.6 159.5L120.8 159.8L120.0 159.9ZM118.8 158.9L118.9 157.9L119.1 157.0L118.6 156.4L117.6 156.4L117.4 157.2L116.5 157.3L116.6 158.0L116.8 158.7L116.3 159.2L116.8 159.5L117.7 159.3ZM154.5 141.0L155.8 141.3L157.9 141.5L157.3 139.9L157.0 139.1L158.2 137.5L159.5 136.3L161.0 135.4L163.5 134.7L165.0 134.0L163.5 133.6L161.3 134.4L159.8 134.7L158.2 135.7L157.3 136.3L156.1 137.9L155.8 138.7L154.9 139.9L154.7 140.4ZM129.5 131.1L130.7 132.5L132.0 134.2L133.2 134.3L134.5 132.5L136.0 132.1L134.5 131.1L133.8 130.0L136.3 130.0L139.4 129.4L136.3 128.9L133.8 129.2L132.0 129.7L129.5 130.1ZM151.8 129.3L155.5 129.7L159.8 129.0L161.0 128.3L157.3 127.6L153.6 128.3ZM181.3 131.0L183.2 131.9L185.0 132.2L187.5 131.7L186.8 130.4L184.4 129.3L182.6 128.3L180.7 129.3ZM207.1 135.8L209.5 136.5L211.9 136.3L215.0 136.5L215.6 135.9L213.2 135.1L210.1 134.9L207.7 135.1ZM232.4 141.0L234.2 141.0L234.8 140.6L233.0 140.4ZM210.2 157.2L210.9 158.7L210.9 160.3L211.3 161.3L210.7 162.3L210.7 163.1L211.0 163.7L210.2 163.9L210.1 162.7L210.1 161.5L210.0 159.9L210.0 158.0ZM209.0 167.3L209.1 166.7L209.2 166.0L209.8 165.8L209.9 164.3L210.7 165.1L212.1 165.3L212.2 165.9L211.5 166.2L210.9 166.9L210.0 166.5L209.5 166.9ZM209.7 167.3L210.1 168.5L209.8 169.6L209.5 170.2L209.4 171.2L209.1 171.8L208.4 172.0L207.8 172.2L207.1 172.2L206.9 172.7L206.3 173.0L205.9 172.3L205.2 172.2L204.6 172.4L204.0 172.6L203.4 172.6L203.6 172.2L204.3 171.6L205.2 171.5L206.3 171.5L206.6 171.0L206.9 170.3L207.4 170.7L208.0 170.3L208.6 169.5L208.9 168.5L208.9 167.9L209.4 167.4ZM203.4 172.7L204.0 173.3L203.8 174.0L203.6 174.5L203.0 174.5L202.9 173.7L202.6 173.2L203.1 172.8ZM204.3 172.7L205.2 172.4L205.6 172.7L205.3 173.0L204.6 173.4L204.2 173.1ZM197.6 178.5L197.8 178.9L197.5 179.9L197.1 180.6L196.7 180.0L197.0 179.1L197.3 178.7ZM190.5 181.9L191.1 182.1L190.7 182.8L190.2 183.1L189.7 182.7L189.8 182.2ZM172.1 188.3L172.8 189.1L173.2 189.8L173.0 190.4L172.4 190.7L172.1 190.5L172.0 189.5ZM197.0 182.9L198.0 182.9L198.1 183.8L197.7 184.6L197.7 185.4L198.4 185.7L199.1 186.3L199.0 186.5L198.2 186.0L197.3 185.9L197.0 185.5L196.7 185.2L196.7 184.3L196.9 183.5ZM197.9 190.1L198.2 189.6L198.8 189.1L199.6 189.0L200.0 188.4L200.5 189.2L200.6 190.0L200.3 190.5L200.0 190.8L199.8 190.2L199.1 190.4L198.9 189.8L198.4 189.9ZM197.9 187.9L198.5 187.2L199.3 187.3L199.3 186.7L200.0 186.7L200.2 187.6L199.7 188.1L199.1 188.2L198.8 188.7L198.4 188.5ZM195.0 189.2L195.7 188.4L196.3 187.5L196.2 188.0L195.7 188.7L195.1 189.3ZM189.9 193.5L190.3 193.2L191.3 192.9L192.4 192.4L193.3 191.6L193.9 191.0L194.6 190.1L195.2 190.5L196.2 191.2L195.4 191.7L195.2 192.7L195.9 193.8L195.2 194.1L195.1 195.0L194.5 195.8L194.3 196.6L194.1 196.9L193.3 196.9L192.7 196.4L191.6 196.4L190.6 196.2L190.5 195.3L189.9 194.6ZM181.5 190.9L182.9 191.2L183.5 191.9L184.4 192.6L185.3 193.2L186.2 194.0L186.6 194.6L187.2 195.5L188.1 196.4L188.0 197.2L188.0 198.0L187.2 198.0L186.5 197.5L185.8 196.9L185.0 196.1L184.6 195.3L183.8 194.2L183.3 193.4L182.7 192.6L181.6 191.4ZM187.6 198.6L188.4 198.1L189.6 198.5L191.0 198.4L192.2 198.7L193.3 199.2L193.2 199.7L192.1 199.6L191.1 199.5L189.3 199.2L188.3 199.0ZM193.6 199.4L194.8 199.5L196.0 199.5L197.3 199.6L198.5 199.5L198.5 199.8L197.3 199.9L196.0 199.8L194.8 200.0L193.6 199.8ZM196.0 200.3L197.0 200.3L197.1 200.7L196.3 200.6ZM198.8 200.8L199.7 200.1L200.9 199.6L200.6 200.1L199.7 200.6L199.1 200.8ZM196.3 197.8L196.4 196.6L195.9 196.1L196.2 195.2L196.5 194.4L196.8 193.8L197.3 193.6L198.5 193.8L199.4 193.7L199.8 193.4L199.5 194.2L198.5 194.2L197.4 194.1L196.8 194.4L196.7 195.0L197.4 195.0L198.1 194.9L198.7 194.9L198.3 195.4L197.6 195.6L198.0 196.2L198.1 196.6L198.5 197.1L198.2 197.4L197.7 197.4L197.6 196.9L197.3 196.2L197.2 196.1L196.9 196.4L196.9 197.2L196.9 197.9ZM201.2 193.2L201.5 193.7L202.0 193.6L201.7 194.1L201.9 194.7L201.5 194.9L201.4 194.2L201.2 193.8ZM201.5 196.2L202.5 196.1L203.3 196.4L202.8 196.6L201.7 196.6ZM200.3 196.3L201.1 196.4L200.9 196.7L200.4 196.7ZM203.3 195.0L204.3 194.6L205.3 194.9L205.4 196.1L206.0 196.4L206.6 195.8L207.1 195.5L207.7 195.4L208.6 195.7L209.5 196.0L210.6 196.4L211.6 196.7L212.4 197.4L212.4 197.7L213.5 198.1L213.6 198.5L213.2 198.7L213.5 199.2L214.0 199.8L214.6 200.1L215.3 200.8L215.0 201.0L214.1 200.7L213.5 200.6L212.7 199.8L211.9 199.3L211.5 199.2L210.9 199.6L210.7 200.0L209.8 200.1L208.9 199.5L208.3 199.3L207.7 199.6L207.5 198.9L208.2 198.5L207.8 198.0L207.2 197.5L206.1 197.1L205.2 196.8L204.6 196.9L204.5 196.5L204.0 196.1L205.0 195.9L204.2 195.8L203.4 195.3ZM214.1 197.9L215.0 197.8L215.6 197.5L216.3 197.0L216.4 197.5L215.9 197.9L215.0 198.2ZM215.5 196.0L216.2 196.4L216.8 197.2L216.6 197.2L215.9 196.4ZM218.0 198.1L218.7 198.6L218.5 198.7ZM220.8 199.5L221.6 200.3L221.1 200.4ZM210.4 201.0L210.9 202.1L211.1 203.1L211.6 203.3L212.1 203.7L212.2 204.7L212.6 205.9L213.5 206.6L214.3 207.2L214.7 208.2L215.5 209.0L216.2 209.8L216.8 210.5L217.1 211.8L217.1 212.4L216.8 213.8L216.5 214.8L215.9 215.7L215.6 216.4L215.2 217.6L215.0 218.4L214.1 218.8L213.5 219.0L212.7 219.7L211.9 219.3L211.3 219.3L210.4 219.3L209.5 219.1L208.9 218.4L208.7 217.6L207.8 217.3L207.7 216.5L207.5 215.5L207.1 216.0L206.4 216.9L206.1 216.7L205.7 215.8L205.2 215.4L204.3 214.8L203.4 214.5L202.5 214.5L201.9 214.8L200.6 215.0L199.7 215.5L199.0 216.1L197.9 216.2L196.7 216.2L195.4 216.9L194.5 216.9L193.7 216.4L193.7 215.8L194.0 214.8L193.7 213.8L193.3 212.4L192.8 211.1L192.7 210.1L192.7 209.1L192.8 208.2L193.6 207.8L194.2 207.4L195.1 207.3L196.0 206.9L197.0 206.8L197.6 206.4L198.1 205.3L198.7 205.1L199.1 204.5L199.6 203.9L200.0 203.3L200.9 203.0L201.9 203.6L202.6 203.6L202.6 202.8L203.1 202.1L203.7 202.0L204.3 201.5L205.2 201.8L206.1 201.8L206.9 202.0L206.4 202.8L206.1 203.7L206.7 204.2L207.4 204.3L208.0 204.8L208.6 205.3L209.4 205.2L209.7 204.3L209.9 203.7L209.9 202.8L210.0 202.1L210.1 201.3ZM211.8 220.9L212.9 221.2L213.9 221.0L214.0 222.0L213.5 222.8L212.6 223.1L212.1 222.1ZM228.8 216.5L229.8 217.1L230.5 218.1L230.8 218.7L232.2 218.7L232.0 219.9L231.4 220.1L231.1 221.0L230.4 221.6L230.0 221.4L230.3 220.4L229.5 219.9L230.0 219.3L230.0 218.2L229.1 217.0ZM228.8 220.8L229.7 221.5L229.4 222.3L228.9 223.1L228.0 223.6L227.7 224.8L226.7 225.4L225.7 225.1L225.1 224.8L225.7 223.8L226.5 223.3L227.5 222.6L228.1 221.7L228.5 221.0ZM223.5 206.9L224.7 207.8L225.4 208.4L224.9 208.4L223.8 207.5ZM231.6 205.3L232.4 205.4L232.3 205.7L231.6 205.7ZM225.1 203.7L225.5 204.2L225.4 204.3ZM130.4 169.8L131.0 169.7L132.3 169.6L132.1 170.5L132.0 170.7L131.0 170.4L130.4 170.1ZM127.8 167.6L128.7 167.6L128.7 168.9L127.9 169.1L127.9 168.4ZM128.0 166.5L128.5 166.2L128.6 166.9L128.4 167.3L128.1 167.1ZM137.2 171.6L138.2 171.6L139.0 171.8L138.2 172.0L137.3 171.8ZM142.7 171.9L143.1 171.7L144.0 171.5L143.7 171.9L143.1 172.2ZM25.0 181.8L25.7 182.2L25.2 182.6L25.0 182.2ZM23.6 180.9L23.9 181.1L23.7 181.1ZM24.6 181.3L25.0 181.4L24.7 181.5ZM18.4 157.4L19.4 156.9L19.4 157.1L18.4 157.8ZM16.8 158.3L17.5 157.9L17.5 158.1ZM11.7 159.3L12.3 159.1L12.2 159.4ZM25.9 154.4L27.2 154.0L27.3 154.6L26.3 155.0ZM15.1 148.9L16.1 148.6L16.9 149.1L15.8 149.3ZM17.9 152.0L18.8 151.9L18.7 152.3ZM39.5 157.4L40.3 157.4L40.6 158.9L39.9 158.5ZM84.7 229.3L86.6 229.2L86.2 229.9L84.8 229.8ZM84.2 187.8L84.7 187.7L84.7 188.2L84.2 188.2ZM212.6 165.0L214.2 164.3L214.1 164.5ZM215.0 163.9L216.2 163.0L216.1 163.2ZM217.7 161.3L218.7 160.2L218.3 160.7ZM155.7 186.6L156.4 186.6L156.2 186.8ZM146.9 198.0L147.2 198.2L147.0 198.3ZM73.7 177.6L74.4 177.7L74.2 179.1L73.9 178.7ZM82.5 160.8L84.1 161.2L84.1 161.5L82.9 161.2ZM82.6 163.3L84.1 163.5L83.7 163.9L82.8 163.7ZM134.0 154.1L134.5 154.1L134.3 154.9L133.9 154.8ZM124.2 168.7L124.8 168.5L124.6 168.9ZM184.4 132.5L186.8 132.7L187.5 131.9L185.0 131.5ZM152.6 142.9L153.4 142.8L153.2 143.4L152.6 143.4ZM76.5 167.9L77.8 167.6L77.5 167.8Z" fill="#6f7f97" stroke="#6f7f97" stroke-width=".35" stroke-linejoin="round"/>
<path d="M151.8 163.9L151.8 160.7L154.2 159.5L156.7 159.9L159.2 159.9L160.4 157.4L163.5 157.0L165.9 156.6L168.4 157.4L170.3 157.9L172.1 159.9L173.9 159.9L176.6 161.4L179.5 160.3L183.2 160.7L183.2 159.1L185.6 159.7L188.7 160.7L190.5 161.3L192.4 160.7L194.8 161.1L196.7 160.7L197.0 158.7L197.3 158.0L199.7 158.3L201.2 160.7L203.4 162.6L205.8 162.0L205.2 163.5L204.6 164.7L203.4 166.2M176.6 161.4L177.3 162.3L178.9 164.3L181.9 166.4L185.0 166.5L187.5 167.1L191.1 165.8L193.0 164.7L194.2 163.9L196.5 163.1L195.1 161.1M155.2 167.1L157.3 167.4L157.3 164.7L158.9 164.3L160.4 165.4L162.3 165.8L163.5 167.6L164.7 167.6L165.9 166.9L166.6 166.3L168.4 166.2L170.3 166.2L172.1 166.8L172.3 164.7L173.9 163.1L175.5 163.0L176.6 161.4M157.3 167.4L158.9 166.5L159.8 167.3L161.0 168.4L162.6 169.2L163.8 170.2M156.0 170.2L157.9 169.7L159.5 170.3L160.4 170.8L162.6 171.0L163.8 170.2L165.9 170.1L166.9 170.7L169.0 170.5M164.7 167.6L165.6 168.2L166.6 168.2L168.1 168.7L168.4 168.4L172.1 166.8M168.1 168.7L166.6 169.5L166.9 170.7M168.4 168.4L169.0 170.5L170.3 171.6L171.5 173.3L171.5 174.7L172.7 175.2L173.9 175.8L175.2 176.5L177.0 176.8L177.6 177.2L179.5 176.8L181.3 176.0L182.6 176.5L183.5 178.0L182.9 179.3L183.8 180.6L184.4 181.0L185.3 181.1L185.6 180.3L186.8 180.1L188.1 180.0L189.3 180.9M172.2 176.2L173.9 177.0L175.2 177.6L177.0 177.8L177.0 176.8M177.1 177.7L178.1 178.0L179.7 178.7L179.7 180.0L179.2 180.2M177.1 177.7L177.2 179.0L177.6 180.6M179.5 176.8L181.3 177.4L182.6 176.5M179.7 180.0L180.3 179.3L181.1 178.3L182.6 177.0M160.8 178.5L160.9 177.4L161.5 176.5L160.4 175.7L163.7 175.4L165.6 174.0L165.9 173.0L166.6 172.3L166.9 170.7M164.8 179.5L166.6 179.0L165.9 177.0L167.2 176.0L167.8 175.4L168.7 174.0L169.0 173.0L170.3 171.6M149.9 168.7L150.4 170.4L151.1 171.6L150.8 172.8L152.1 174.0L152.4 175.0M149.9 168.7L151.1 169.1L152.4 168.7L152.9 169.5M160.4 170.8L160.4 172.6L160.1 173.3L160.3 174.3L160.9 175.0L160.4 175.7M145.1 170.7L146.2 170.7L147.1 170.7L148.7 170.4L150.4 170.4M148.4 167.3L149.6 167.6L149.9 168.7M147.3 165.8L149.3 166.0L151.5 167.1L152.7 167.1M149.6 167.6L151.5 167.6L151.5 167.1M148.7 170.4L148.1 172.3L146.8 173.8L146.9 173.9M144.8 173.1L145.5 173.8L146.8 173.8L145.6 174.3L146.2 175.0L145.9 175.4L145.0 175.9L144.3 175.8M146.8 173.8L147.8 174.1L148.7 174.5L150.2 175.9L151.5 176.0L152.1 175.4M151.5 176.0L152.2 176.3L152.6 176.4M149.2 184.2L149.4 183.6L150.8 183.6L151.8 183.8L152.7 183.0L154.9 182.6L155.5 184.0M154.9 182.6L156.7 181.9L157.1 180.6L156.8 180.2L155.2 180.0L154.6 179.2M156.8 180.2L157.2 179.2L157.4 178.9L157.4 177.9M121.6 165.9L123.1 166.3L124.7 166.6M117.2 167.0L118.6 167.1L118.4 168.7L118.1 170.4M124.2 159.9L125.3 160.7L126.4 161.1L127.8 161.5L127.4 162.6L126.4 163.7L127.0 164.0L127.0 165.3L127.3 165.6M124.8 159.6L126.4 159.9L126.5 160.7L126.4 161.1M127.1 158.0L126.9 159.1L126.4 159.9M128.1 156.7L128.8 156.8M131.5 157.5L131.8 159.9L130.2 160.5L131.2 161.8L130.7 162.7L129.2 162.7L128.6 162.7L127.4 162.6M126.4 163.7L127.9 163.9L129.2 163.3L130.2 163.1L131.2 163.5L131.2 164.2M131.2 163.5L132.7 163.3L133.2 162.3L133.1 161.8L131.2 161.8M131.8 159.9L132.9 160.5L134.3 161.1L136.6 161.5L136.4 162.0L134.3 162.5L133.2 162.3M134.8 157.1L136.8 157.2L137.3 158.6L137.3 159.5L137.5 160.2L136.7 161.5M135.7 156.3L136.8 156.7L137.2 157.5L138.6 157.2L139.2 156.0L138.2 155.6L135.7 155.6M139.2 156.0L140.1 155.6L139.8 154.5L137.8 154.1M139.8 154.5L139.7 154.0L140.0 152.7M137.3 159.5L138.5 159.2L141.6 159.7L142.4 159.0L142.1 158.2L142.9 158.0L141.8 156.8L141.8 156.1L140.1 155.6M142.4 159.0L144.0 159.3L144.7 160.4L146.2 160.8L147.4 161.1L147.3 162.5L146.3 163.0M136.4 162.0L137.9 162.4L139.2 162.1L140.1 164.3L141.1 164.4M139.2 162.1L140.8 162.3L141.3 163.5M136.4 162.0L135.7 163.7L134.3 164.0L132.7 163.3M135.7 163.7L136.6 165.0L136.7 165.3L138.5 165.6L140.3 165.6M136.7 165.3L136.6 166.7L136.9 167.4L139.0 167.1L140.0 166.9M134.3 164.0L134.5 164.7L134.7 165.8L134.1 166.5M134.7 166.9L135.4 166.8L136.6 166.7M135.1 168.6L135.7 167.8L136.9 167.4M139.0 167.1L139.0 167.7L138.8 167.8M131.2 164.2L132.2 164.3L132.8 163.6M132.2 164.3L132.6 164.5L134.5 164.7M129.7 153.2L130.3 151.2L130.1 148.8L131.4 147.4L132.6 144.8L134.0 143.7L135.4 143.2M137.5 146.6L137.2 144.8L135.4 143.2L138.7 142.6L140.6 143.1L141.3 142.4M139.9 151.7L142.2 149.5L141.1 147.6L140.6 145.5L141.3 144.6L140.6 143.1M138.2 174.2L138.2 180.6L145.5 180.6M129.8 173.2L129.1 175.2L128.6 175.2L128.9 177.7L130.1 179.7L131.5 180.2L132.6 179.7L137.5 182.2L137.5 181.9L138.2 181.9L138.2 180.6M128.6 175.2L127.6 173.7L128.0 170.6M121.3 171.9L121.9 173.8L120.4 174.7L119.3 175.5L117.3 176.2L117.3 177.2M117.3 177.2L119.7 178.7L123.4 181.2L124.7 182.6L125.3 182.5L126.4 182.0L130.1 179.7M117.3 177.2L117.3 178.0L115.2 178.0L114.6 180.0L114.6 181.1L112.1 181.1M114.5 176.9L117.3 176.9M118.6 178.7L119.3 184.1L119.4 184.8L115.5 184.8L115.1 185.2L113.7 184.1L112.4 184.5M115.1 185.2L115.6 186.7L114.2 186.5L112.3 186.7M115.6 186.7L117.5 187.6L117.8 188.1L117.6 189.7L118.0 191.7M114.4 188.8L116.1 189.2L115.6 190.1M116.1 189.2L117.6 189.7M119.3 188.0L119.4 184.8M117.8 188.1L119.3 188.0L120.9 188.5L121.0 191.3M119.3 188.0L120.9 187.6L122.7 187.6L123.3 187.6L123.1 190.6M123.3 187.6L124.9 187.2L124.3 190.5M125.3 182.5L125.3 184.5L124.9 184.8L123.3 185.1L122.8 185.1L122.4 185.1L120.9 185.7L120.0 186.2L119.4 187.1M122.8 185.1L124.0 186.7L124.9 187.2L125.5 185.9L127.0 186.3L128.9 186.2L131.0 185.9M132.6 179.7L132.3 181.3L132.3 183.8L131.0 185.4L131.0 185.9L131.5 186.7L132.0 188.2L131.2 188.8L132.0 189.8L131.7 190.8L132.6 193.0M131.5 186.7L130.4 189.1L129.5 190.3L128.0 191.4M137.5 182.2L137.5 184.7L136.6 186.3L136.9 187.6L137.4 189.0L139.7 191.3M132.0 188.2L133.2 189.5L134.5 188.8L136.9 187.6M131.7 190.8L133.0 192.2L134.2 192.2L136.6 191.9L138.2 191.2L139.7 191.3M137.4 189.0L138.8 188.2L140.6 188.4L143.1 188.1L143.8 189.2L143.1 189.5L144.4 191.1L145.0 191.7M145.5 180.6L145.3 185.5L145.0 186.5L143.8 188.2M145.3 185.5L146.2 185.1L147.4 185.4L148.9 186.7L149.4 186.5M148.9 186.7L148.6 187.6L149.3 187.3M148.6 187.6L149.3 188.5L150.5 189.2L152.4 189.5L150.5 191.3L148.7 191.8L148.1 192.0L145.0 191.7M148.1 192.0L148.1 194.9L148.4 195.4M145.0 191.7L143.7 191.8L141.8 192.2L139.7 191.3M143.7 191.8L144.4 193.3L143.7 195.0L146.0 196.2L146.9 197.3M143.7 195.0L141.6 195.0L141.0 195.3M141.8 192.2L142.0 193.0L141.0 195.3L140.8 197.2L141.7 199.5L140.3 199.6L140.3 201.8L140.6 202.7L139.5 201.6L137.5 201.2L137.4 202.5L136.3 202.5L136.3 201.2L134.5 199.3L133.2 199.3L133.0 198.0L130.6 198.0M130.2 197.5L131.7 197.4L132.6 196.4L133.6 194.7L134.2 192.2M128.7 193.0L129.7 193.0L130.9 193.0L132.6 193.0M129.7 193.0L129.7 193.8L128.6 193.8M129.6 196.8L131.6 195.8L131.7 194.7L130.9 193.0M141.7 199.5L143.1 200.2L144.2 201.5L147.7 200.9M143.1 200.2L143.1 203.1L141.4 203.7L140.6 204.3L139.4 205.5L138.4 205.5M144.2 201.5L144.0 203.3L144.8 204.7L144.0 204.5L143.1 203.1M141.4 203.7L143.0 204.8L143.0 206.6L142.1 208.4L140.9 208.3L139.6 207.2L138.4 205.5M130.0 205.2L131.4 205.2L134.1 205.2L137.2 205.4L138.4 205.5M136.3 202.5L136.3 204.5L137.2 205.4M132.9 212.5L135.1 212.4L135.1 210.0L135.1 208.2L135.7 208.2L135.7 205.8L137.2 205.4M135.1 210.0L136.6 210.9L138.5 210.5L139.4 209.3L140.9 208.3M142.1 208.4L142.5 209.8L142.5 211.3L143.1 211.4M139.4 213.2L140.3 212.6L140.9 213.2L140.1 213.9M34.5 142.6L34.5 151.9L35.7 152.1L36.7 153.2L38.2 152.4L39.2 153.6L40.8 155.2L41.4 155.8L41.3 156.8M45.8 161.5L54.0 161.5L63.4 161.5L65.3 162.0L66.8 162.3L69.9 163.5L71.2 164.4L71.2 166.2L70.9 166.9L73.4 166.2L73.4 165.9L75.0 165.4L76.1 164.7L78.1 164.7L79.1 163.5L80.4 163.0L80.4 164.1L80.9 164.7M49.5 173.7L51.0 173.5L53.3 174.5L55.1 174.5L55.1 174.1L56.2 174.1L57.4 175.6L58.4 176.0L59.3 175.5L60.6 177.0L62.0 178.1M65.1 185.4L65.6 184.4L66.2 184.4L65.7 183.7L65.9 183.3L67.0 183.3L67.6 182.9M67.0 183.3L67.0 184.5L67.7 184.7M66.5 185.9L66.9 185.5L67.0 185.1L67.5 184.7M66.9 185.5L67.9 186.1M68.0 186.3L68.6 185.8L69.7 185.3L70.8 185.1M69.2 187.5L69.8 187.6L70.5 187.7M70.9 189.3L71.2 188.5M78.2 187.1L77.5 188.8L77.8 190.1L79.4 190.6L80.6 190.6L80.9 193.7L79.2 193.7L79.1 194.5L79.4 195.3L79.1 197.0M80.9 193.7L82.0 193.9L82.8 193.2L82.8 191.9L83.6 191.9L84.9 191.2L85.3 191.2L85.9 193.6L87.5 193.2L88.7 193.0L89.9 193.0L90.5 191.8M85.3 189.2L84.4 190.7L84.9 191.2M87.1 190.7L87.0 192.4L87.5 193.2M89.1 190.8L88.7 193.0M73.5 193.5L74.7 194.2L75.7 194.5L77.0 195.8L79.1 197.0L77.2 197.6L76.5 199.0L77.7 200.6L78.7 200.3L78.7 201.2L79.4 201.2M72.6 196.5L73.4 197.5L73.9 196.5L75.7 194.5M79.4 201.2L79.9 202.1L79.7 204.0L79.4 205.3L78.9 205.8M79.4 201.2L82.0 200.5L82.2 201.8L85.0 202.9L85.3 204.5L86.6 205.3L86.6 206.9L86.6 208.2L88.0 208.4L88.9 209.5L88.7 210.5L89.2 211.4L87.8 212.4L86.8 213.6L88.4 214.3L89.4 216.0M79.4 205.3L80.3 206.6L80.3 208.8L80.9 208.8L82.2 208.2L83.6 208.3L84.2 206.8L86.4 206.8M83.6 208.3L85.3 209.5L86.7 210.3L86.2 211.6L87.8 211.6L88.7 210.5M86.8 213.6L86.4 215.1L86.4 216.2M80.3 208.8L80.0 211.4L79.1 213.4L79.1 216.2L78.4 219.0L78.0 222.6L77.8 226.5L77.5 228.9L80.1 229.9M79.9 230.3L79.9 232.1M183.6 188.2L183.9 186.7L183.3 185.1L183.5 184.1L182.9 182.9L183.2 182.0L184.4 181.7L185.1 181.0M184.4 181.7L184.7 182.2L185.0 183.5L185.9 183.2L186.8 183.0L187.3 184.1L187.8 185.5L189.0 185.3L189.1 186.8L188.1 187.6L187.2 188.0M185.7 180.4L186.2 181.4L187.2 181.7L186.8 182.4L187.5 182.7L189.0 185.3M186.2 187.2L185.9 186.0L186.5 185.5L187.8 185.5M184.5 190.4L185.0 190.8L185.6 190.6M190.3 193.2L191.1 193.8L191.8 193.5L193.3 193.5L194.0 191.8L195.2 191.8M209.5 196.0L209.5 200.0M199.1 200.2L199.7 200.1L199.8 200.3M199.3 168.4L200.9 167.1L201.5 167.3L202.6 166.6L203.1 166.6M200.8 170.0L201.8 169.4M118.1 156.6L117.8 157.3L118.8 157.4M120.8 156.6L121.4 155.9" fill="none" stroke="#c9d0da" stroke-opacity=".55" stroke-width=".45" stroke-linejoin="round"/>
<path d="M153.0 163.7L154.2 163.1L155.5 163.5L155.6 164.4L154.5 165.0L153.9 165.2L154.5 166.2L155.3 166.9L156.0 167.8L155.7 168.9L156.1 170.2L154.9 170.7L153.9 170.5L153.1 170.1L152.9 169.4L153.2 168.2L153.7 168.1L152.8 167.1L152.1 166.2L151.8 165.0L152.1 164.2ZM65.3 163.3L66.8 162.3L68.7 161.8L69.8 162.7L69.8 163.4L68.1 163.4L66.5 163.3ZM67.9 167.1L67.8 165.4L68.7 164.0L69.7 164.0L69.0 165.4L68.7 166.9ZM70.0 163.9L71.5 163.7L72.8 164.7L71.9 164.8L71.3 166.1L70.5 165.6L70.7 164.7ZM70.7 167.1L72.2 166.4L73.4 166.2L73.1 166.5L71.5 167.3ZM72.9 165.9L74.0 165.5L75.1 165.3L75.1 165.8L73.7 165.9Z" fill="#e9ebee"/>
</g>

<!-- decorative curves -->
<g fill="none" stroke-width="1.5" stroke-linecap="round">
<path d="M-4.0 313.2C-2.7 313.1 1.5 312.8 4.0 312.3C6.5 311.8 8.6 311.3 11.1 310.0C13.6 308.7 16.5 306.6 18.9 304.4C21.3 302.2 23.4 299.4 25.6 296.7C27.9 294.0 29.7 292.2 32.4 288.0C35.1 283.8 38.8 276.1 41.7 271.7C44.6 267.3 47.2 264.3 50.0 261.7C52.8 259.1 55.5 257.3 58.3 255.8C61.1 254.3 63.1 253.3 66.7 252.5C70.3 251.7 76.1 251.4 80.0 250.8C83.9 250.2 86.7 250.2 90.0 249.2C93.3 248.2 96.7 246.8 100.0 245.0C103.3 243.2 106.7 240.5 110.0 238.3C113.3 236.1 116.7 233.8 120.0 231.7C123.3 229.6 126.7 227.4 130.0 225.8C133.3 224.2 135.8 223.1 140.0 222.0C144.2 220.9 149.8 220.5 155.0 219.3C160.2 218.1 166.7 216.8 171.0 214.6C175.3 212.4 177.7 209.1 181.0 206.0C184.3 202.9 187.7 198.8 191.0 196.0C194.3 193.2 197.7 191.3 201.0 189.5C204.3 187.7 206.7 186.0 211.0 185.0C215.3 184.0 222.8 183.3 227.0 183.3C231.2 183.3 233.2 183.9 236.0 185.0C238.8 186.1 241.0 186.8 244.0 190.0C247.0 193.2 250.8 199.1 254.0 204.0C257.2 208.9 260.3 214.2 263.0 219.5C265.7 224.8 267.8 231.4 270.0 236.0C272.2 240.6 273.7 243.8 276.0 247.0C278.3 250.2 281.0 252.9 284.0 255.0C287.0 257.1 290.0 258.6 294.0 259.5C298.0 260.4 303.6 260.9 308.0 260.5C312.4 260.1 316.5 260.1 320.7 257.0C324.9 253.9 328.7 248.4 333.0 242.0C337.3 235.6 343.8 223.8 346.7 218.5C349.6 213.2 348.9 212.8 350.3 210.0C351.7 207.2 353.3 204.2 355.0 201.7C356.7 199.2 358.6 196.9 360.5 195.0C362.4 193.1 364.3 191.5 366.7 190.0C369.1 188.5 370.8 187.0 375.0 185.8C379.2 184.6 384.8 184.0 391.7 183.0C398.6 182.0 410.1 181.4 416.7 180.0C423.2 178.6 426.1 175.7 431.0 174.5C435.9 173.3 441.2 173.2 446.0 172.8C450.8 172.4 455.8 172.4 460.0 172.0C464.2 171.6 467.2 171.8 471.0 170.5C474.8 169.2 478.9 167.1 483.0 164.0C487.1 160.9 491.5 155.9 495.7 151.8C499.9 147.7 504.6 142.3 508.0 139.4C511.4 136.5 513.4 135.8 516.0 134.5C518.6 133.2 520.5 132.3 523.5 131.7C526.5 131.0 532.2 130.8 534.0 130.6" stroke="url(#gg)"/>
<path d="M-4.0 312.2C-2.7 312.1 1.9 312.0 4.0 311.6C6.2 311.2 6.8 311.2 8.9 310.0C11.0 308.8 14.3 306.8 16.7 304.4C19.1 302.0 21.3 298.6 23.3 295.6C25.3 292.7 27.0 289.7 28.9 286.7C30.8 283.7 32.3 282.0 34.4 277.8C36.5 273.6 39.1 267.2 41.7 261.7C44.3 256.2 47.2 249.6 50.0 245.0C52.8 240.4 55.5 236.8 58.3 234.2C61.1 231.6 63.9 230.3 66.7 229.2C69.5 228.1 71.7 227.6 75.0 227.5C78.3 227.4 82.5 227.7 86.7 228.7C90.9 229.7 95.6 231.0 100.0 233.3C104.4 235.6 108.8 239.6 113.3 242.5C117.8 245.4 122.2 248.7 126.7 250.8C131.2 252.9 136.1 254.2 140.0 255.0C143.9 255.8 145.8 256.1 150.0 255.8C154.2 255.6 160.8 255.1 165.0 253.5C169.2 251.9 171.8 248.9 175.0 246.0C178.2 243.1 180.8 240.0 184.0 236.0C187.2 232.0 190.7 226.3 194.0 222.0C197.3 217.7 200.5 213.2 204.0 210.0C207.5 206.8 211.2 204.2 215.0 202.5C218.8 200.8 223.5 200.2 227.0 200.0C230.5 199.8 233.2 200.2 236.0 201.0C238.8 201.8 241.0 202.2 244.0 205.0C247.0 207.8 250.8 213.2 254.0 218.0C257.2 222.8 260.3 228.7 263.0 234.0C265.7 239.3 267.8 244.8 270.0 250.0C272.2 255.2 273.7 260.6 276.0 265.0C278.3 269.4 281.0 273.6 284.0 276.5C287.0 279.4 290.0 281.1 294.0 282.5C298.0 283.9 303.6 284.8 308.0 284.7C312.4 284.6 315.3 282.9 320.6 282.0C325.9 281.1 330.1 281.0 340.0 279.0C349.9 277.0 370.7 273.8 380.0 270.0C389.3 266.2 391.9 260.6 396.0 256.0C400.1 251.4 401.1 247.2 404.5 242.5C407.9 237.8 412.9 232.2 416.7 227.5C420.5 222.8 423.9 217.9 427.5 214.5C431.1 211.1 434.6 209.2 438.3 207.3C442.1 205.4 446.1 204.0 450.0 203.0C453.9 202.0 458.8 202.1 461.8 201.5C464.8 200.9 466.0 200.6 468.0 199.5C470.0 198.4 472.0 196.9 474.0 195.0C476.0 193.1 477.9 191.1 480.0 188.0C482.1 184.9 483.9 182.5 486.5 176.5C489.1 170.5 492.6 160.1 495.7 151.8C498.8 143.6 502.6 132.6 505.0 127.0C507.4 121.5 508.5 120.8 510.0 118.5C511.5 116.2 512.3 114.9 514.0 113.0C515.7 111.1 517.9 108.8 520.0 107.0C522.1 105.2 524.6 103.3 526.6 102.0C528.6 100.7 531.1 99.5 532.0 99.0" stroke="url(#yg)"/>
</g>
<g fill="none" stroke-width="2.1" stroke-linecap="round" clip-path="url(#leftclip)">
<path d="M-4.0 313.2C-2.7 313.1 1.5 312.8 4.0 312.3C6.5 311.8 8.6 311.3 11.1 310.0C13.6 308.7 16.5 306.6 18.9 304.4C21.3 302.2 23.4 299.4 25.6 296.7C27.9 294.0 29.7 292.2 32.4 288.0C35.1 283.8 38.8 276.1 41.7 271.7C44.6 267.3 47.2 264.3 50.0 261.7C52.8 259.1 55.5 257.3 58.3 255.8C61.1 254.3 63.1 253.3 66.7 252.5C70.3 251.7 76.1 251.4 80.0 250.8C83.9 250.2 86.7 250.2 90.0 249.2C93.3 248.2 96.7 246.8 100.0 245.0C103.3 243.2 106.7 240.5 110.0 238.3C113.3 236.1 116.7 233.8 120.0 231.7C123.3 229.6 126.7 227.4 130.0 225.8C133.3 224.2 135.8 223.1 140.0 222.0C144.2 220.9 149.8 220.5 155.0 219.3C160.2 218.1 166.7 216.8 171.0 214.6C175.3 212.4 177.7 209.1 181.0 206.0C184.3 202.9 187.7 198.8 191.0 196.0C194.3 193.2 197.7 191.3 201.0 189.5C204.3 187.7 206.7 186.0 211.0 185.0C215.3 184.0 222.8 183.3 227.0 183.3C231.2 183.3 233.2 183.9 236.0 185.0C238.8 186.1 241.0 186.8 244.0 190.0C247.0 193.2 250.8 199.1 254.0 204.0C257.2 208.9 260.3 214.2 263.0 219.5C265.7 224.8 267.8 231.4 270.0 236.0C272.2 240.6 273.7 243.8 276.0 247.0C278.3 250.2 281.0 252.9 284.0 255.0C287.0 257.1 290.0 258.6 294.0 259.5C298.0 260.4 303.6 260.9 308.0 260.5C312.4 260.1 316.5 260.1 320.7 257.0C324.9 253.9 328.7 248.4 333.0 242.0C337.3 235.6 343.8 223.8 346.7 218.5C349.6 213.2 348.9 212.8 350.3 210.0C351.7 207.2 353.3 204.2 355.0 201.7C356.7 199.2 358.6 196.9 360.5 195.0C362.4 193.1 364.3 191.5 366.7 190.0C369.1 188.5 370.8 187.0 375.0 185.8C379.2 184.6 384.8 184.0 391.7 183.0C398.6 182.0 410.1 181.4 416.7 180.0C423.2 178.6 426.1 175.7 431.0 174.5C435.9 173.3 441.2 173.2 446.0 172.8C450.8 172.4 455.8 172.4 460.0 172.0C464.2 171.6 467.2 171.8 471.0 170.5C474.8 169.2 478.9 167.1 483.0 164.0C487.1 160.9 491.5 155.9 495.7 151.8C499.9 147.7 504.6 142.3 508.0 139.4C511.4 136.5 513.4 135.8 516.0 134.5C518.6 133.2 520.5 132.3 523.5 131.7C526.5 131.0 532.2 130.8 534.0 130.6" stroke="url(#gg)"/>
<path d="M-4.0 312.2C-2.7 312.1 1.9 312.0 4.0 311.6C6.2 311.2 6.8 311.2 8.9 310.0C11.0 308.8 14.3 306.8 16.7 304.4C19.1 302.0 21.3 298.6 23.3 295.6C25.3 292.7 27.0 289.7 28.9 286.7C30.8 283.7 32.3 282.0 34.4 277.8C36.5 273.6 39.1 267.2 41.7 261.7C44.3 256.2 47.2 249.6 50.0 245.0C52.8 240.4 55.5 236.8 58.3 234.2C61.1 231.6 63.9 230.3 66.7 229.2C69.5 228.1 71.7 227.6 75.0 227.5C78.3 227.4 82.5 227.7 86.7 228.7C90.9 229.7 95.6 231.0 100.0 233.3C104.4 235.6 108.8 239.6 113.3 242.5C117.8 245.4 122.2 248.7 126.7 250.8C131.2 252.9 136.1 254.2 140.0 255.0C143.9 255.8 145.8 256.1 150.0 255.8C154.2 255.6 160.8 255.1 165.0 253.5C169.2 251.9 171.8 248.9 175.0 246.0C178.2 243.1 180.8 240.0 184.0 236.0C187.2 232.0 190.7 226.3 194.0 222.0C197.3 217.7 200.5 213.2 204.0 210.0C207.5 206.8 211.2 204.2 215.0 202.5C218.8 200.8 223.5 200.2 227.0 200.0C230.5 199.8 233.2 200.2 236.0 201.0C238.8 201.8 241.0 202.2 244.0 205.0C247.0 207.8 250.8 213.2 254.0 218.0C257.2 222.8 260.3 228.7 263.0 234.0C265.7 239.3 267.8 244.8 270.0 250.0C272.2 255.2 273.7 260.6 276.0 265.0C278.3 269.4 281.0 273.6 284.0 276.5C287.0 279.4 290.0 281.1 294.0 282.5C298.0 283.9 303.6 284.8 308.0 284.7C312.4 284.6 315.3 282.9 320.6 282.0C325.9 281.1 330.1 281.0 340.0 279.0C349.9 277.0 370.7 273.8 380.0 270.0C389.3 266.2 391.9 260.6 396.0 256.0C400.1 251.4 401.1 247.2 404.5 242.5C407.9 237.8 412.9 232.2 416.7 227.5C420.5 222.8 423.9 217.9 427.5 214.5C431.1 211.1 434.6 209.2 438.3 207.3C442.1 205.4 446.1 204.0 450.0 203.0C453.9 202.0 458.8 202.1 461.8 201.5C464.8 200.9 466.0 200.6 468.0 199.5C470.0 198.4 472.0 196.9 474.0 195.0C476.0 193.1 477.9 191.1 480.0 188.0C482.1 184.9 483.9 182.5 486.5 176.5C489.1 170.5 492.6 160.1 495.7 151.8C498.8 143.6 502.6 132.6 505.0 127.0C507.4 121.5 508.5 120.8 510.0 118.5C511.5 116.2 512.3 114.9 514.0 113.0C515.7 111.1 517.9 108.8 520.0 107.0C522.1 105.2 524.6 103.3 526.6 102.0C528.6 100.7 531.1 99.5 532.0 99.0" stroke="url(#yg)"/>
</g>

<!-- chart -->
<rect x="260" y="395.9" width="615" height="1.3" fill="#d9d9d9"/>
<rect x="320.8" y="218.7" width="84.0" height="12.8" fill="#70ad47"/><rect x="320.8" y="231.2" width="84.0" height="5.3" fill="#7f7f7f"/><rect x="320.8" y="236.2" width="84.0" height="67.8" fill="#fb9543"/><rect x="320.8" y="303.7" width="84.0" height="37.0" fill="#3a78b8"/><rect x="320.8" y="340.4" width="84.0" height="55.9" fill="#b53a30"/><rect x="525.0" y="198.0" width="84.5" height="14.3" fill="#70ad47"/><rect x="525.0" y="212.0" width="84.5" height="6.1" fill="#7f7f7f"/><rect x="525.0" y="217.8" width="84.5" height="76.5" fill="#fb9543"/><rect x="525.0" y="294.0" width="84.5" height="41.1" fill="#3a78b8"/><rect x="525.0" y="334.8" width="84.5" height="61.5" fill="#b53a30"/><rect x="730.2" y="148.7" width="84.6" height="16.6" fill="#70ad47"/><rect x="730.2" y="165.0" width="84.6" height="7.3" fill="#7f7f7f"/><rect x="730.2" y="172.0" width="84.6" height="102.7" fill="#fb9543"/><rect x="730.2" y="274.4" width="84.6" height="46.3" fill="#3a78b8"/><rect x="730.2" y="320.4" width="84.6" height="75.9" fill="#b53a30"/>
<path d="M610 193.3L727 151.2" stroke="#d6d6d6" stroke-width="1.1" fill="none"/>
<path d="M721.5 147.2L735 149.2L725.6 158.2Z" fill="#d4d4d4"/>
<circle cx="657.5" cy="175.6" r="26.7" fill="#f7820f"/>
<rect x="274.1" y="455" width="9.3" height="9.1" fill="#b53a30"/><rect x="410.1" y="455" width="9.3" height="9.1" fill="#3a78b8"/><rect x="491.3" y="455" width="9.3" height="9.1" fill="#fb9543"/><rect x="605.7" y="455" width="9.3" height="9.1" fill="#7f7f7f"/><rect x="769.9" y="455" width="9.3" height="9.1" fill="#70ad47"/>

<!-- text -->
<text transform="translate(27.10 48.75) scale(0.7865 1)" font-size="24.67" font-weight="700" fill="#ffffff" stroke="#ffffff" stroke-width="0.5" stroke-linejoin="round">METALIZED</text>
<text transform="translate(144.12 48.75) scale(0.7684 1)" font-size="24.67" font-weight="700" fill="#ffffff" stroke="#ffffff" stroke-width="0.5" stroke-linejoin="round">FLEXIBLE</text>
<text transform="translate(241.30 48.75) scale(0.7867 1)" font-size="24.67" font-weight="700" fill="#ffffff" stroke="#ffffff" stroke-width="0.5" stroke-linejoin="round">PACKAGING</text>
<text transform="translate(364.78 48.75) scale(0.7982 1)" font-size="24.67" font-weight="700" fill="#ffffff" stroke="#ffffff" stroke-width="0.5" stroke-linejoin="round">MARKET</text>
<text transform="translate(27.33 69.55) scale(0.7266 1)" font-size="19.56" font-weight="700" fill="#d8e0ea" stroke="#d8e0ea" stroke-width="0.3" stroke-linejoin="round">GLOBAL</text>
<text transform="translate(91.96 69.55) scale(0.7268 1)" font-size="19.56" font-weight="700" fill="#d8e0ea" stroke="#d8e0ea" stroke-width="0.3" stroke-linejoin="round">FORECAST</text>
<text transform="translate(172.65 69.55) scale(0.7191 1)" font-size="19.56" font-weight="700" fill="#d8e0ea" stroke="#d8e0ea" stroke-width="0.3" stroke-linejoin="round">TO</text>
<text transform="translate(196.30 69.65) scale(0.9334 1)" font-size="19.85" font-weight="700" fill="#d8e0ea" stroke="#d8e0ea" stroke-width="0.1" stroke-linejoin="round">2028</text>
<text transform="translate(241.26 69.55) scale(0.7816 1)" font-size="19.56" font-weight="700" fill="#d8e0ea" stroke="#d8e0ea" stroke-width="0.3" stroke-linejoin="round">(USD</text>
<text transform="translate(283.00 69.55) scale(0.7748 1)" font-size="19.56" font-weight="700" fill="#d8e0ea" stroke="#d8e0ea" stroke-width="0.3" stroke-linejoin="round">BN)</text>
<text transform="translate(23.30 277.65) scale(0.8108 1)" font-size="18.76" font-weight="700" fill="#a3a3a3" stroke="#a3a3a3" stroke-width="0.3" stroke-linejoin="round">CAGR OF</text>
<text transform="translate(23.59 319.35) scale(0.9474 1)" font-size="43.28" font-weight="400" fill="#3676b7" stroke="#3676b7" stroke-width="0.7" stroke-linejoin="round">4.5</text>
<text transform="translate(82.38 319.35) scale(0.7729 1)" font-size="43.28" font-weight="400" fill="#3676b7" stroke="#3676b7" stroke-width="0.7" stroke-linejoin="round">%</text>
<text transform="translate(22.76 352.88) scale(0.9872 1)" font-size="16.24" font-weight="400" fill="#161616" stroke="#161616" stroke-width="0.25" stroke-linejoin="round">The</text>
<text transform="translate(81.39 352.88) scale(1.0879 1)" font-size="16.24" font-weight="400" fill="#161616" stroke="#161616" stroke-width="0.25" stroke-linejoin="round">global</text>
<text transform="translate(158.16 352.88) scale(1.0868 1)" font-size="16.24" font-weight="400" fill="#161616" stroke="#161616" stroke-width="0.25" stroke-linejoin="round">metalized</text>
<text transform="translate(22.89 375.38) scale(1.0792 1)" font-size="16.24" font-weight="400" fill="#161616" stroke="#161616" stroke-width="0.25" stroke-linejoin="round">flexible</text>
<text transform="translate(88.20 375.38) scale(1.0901 1)" font-size="16.24" font-weight="400" fill="#161616" stroke="#161616" stroke-width="0.25" stroke-linejoin="round">packaging</text>
<text transform="translate(178.36 375.38) scale(1.0948 1)" font-size="16.24" font-weight="400" fill="#161616" stroke="#161616" stroke-width="0.25" stroke-linejoin="round">market</text>
<text transform="translate(21.93 396.98) scale(1.1160 1)" font-size="16.24" font-weight="400" fill="#161616" stroke="#161616" stroke-width="0.25" stroke-linejoin="round">is</text>
<text transform="translate(47.70 396.98) scale(1.0601 1)" font-size="16.24" font-weight="400" fill="#161616" stroke="#161616" stroke-width="0.25" stroke-linejoin="round">expected</text>
<text transform="translate(130.26 396.98) scale(1.1192 1)" font-size="16.24" font-weight="400" fill="#161616" stroke="#161616" stroke-width="0.25" stroke-linejoin="round">to</text>
<text transform="translate(157.99 396.98) scale(1.0940 1)" font-size="16.24" font-weight="400" fill="#161616" stroke="#161616" stroke-width="0.25" stroke-linejoin="round">be</text>
<text transform="translate(191.06 396.98) scale(1.0737 1)" font-size="16.24" font-weight="400" fill="#161616" stroke="#161616" stroke-width="0.25" stroke-linejoin="round">worth</text>
<text transform="translate(21.90 418.57) scale(0.9751 1)" font-size="16.24" font-weight="400" fill="#161616" stroke="#161616" stroke-width="0.25" stroke-linejoin="round">USD</text>
<text transform="translate(63.41 418.57) scale(1.1566 1)" font-size="16.24" font-weight="400" fill="#161616" stroke="#161616" stroke-width="0.25" stroke-linejoin="round">16.8</text>
<text transform="translate(106.96 418.57) scale(1.1241 1)" font-size="16.24" font-weight="400" fill="#161616" stroke="#161616" stroke-width="0.25" stroke-linejoin="round">billion</text>
<text transform="translate(160.89 418.57) scale(0.9924 1)" font-size="16.24" font-weight="400" fill="#161616" stroke="#161616" stroke-width="0.25" stroke-linejoin="round">by</text>
<text transform="translate(185.47 418.57) scale(1.2016 1)" font-size="16.24" font-weight="400" fill="#161616" stroke="#161616" stroke-width="0.25" stroke-linejoin="round">2028,</text>
<text transform="translate(22.42 440.77) scale(1.0398 1)" font-size="16.24" font-weight="400" fill="#161616" stroke="#161616" stroke-width="0.25" stroke-linejoin="round">growing</text>
<text transform="translate(87.77 440.77) scale(1.1090 1)" font-size="16.24" font-weight="400" fill="#161616" stroke="#161616" stroke-width="0.25" stroke-linejoin="round">at</text>
<text transform="translate(108.89 440.77) scale(0.9078 1)" font-size="16.24" font-weight="400" fill="#161616" stroke="#161616" stroke-width="0.25" stroke-linejoin="round">a</text>
<text transform="translate(124.05 440.77) scale(0.9278 1)" font-size="16.24" font-weight="400" fill="#161616" stroke="#161616" stroke-width="0.25" stroke-linejoin="round">CAGR</text>
<text transform="translate(174.21 440.77) scale(1.0506 1)" font-size="16.24" font-weight="400" fill="#161616" stroke="#161616" stroke-width="0.25" stroke-linejoin="round">of</text>
<text transform="translate(195.04 440.77) scale(1.0299 1)" font-size="16.24" font-weight="400" fill="#161616" stroke="#161616" stroke-width="0.25" stroke-linejoin="round">4.5%</text>
<text transform="translate(22.37 462.38) scale(1.1222 1)" font-size="16.24" font-weight="400" fill="#161616" stroke="#161616" stroke-width="0.25" stroke-linejoin="round">during</text>
<text transform="translate(76.66 462.38) scale(1.1346 1)" font-size="16.24" font-weight="400" fill="#161616" stroke="#161616" stroke-width="0.25" stroke-linejoin="round">the</text>
<text transform="translate(104.89 462.38) scale(1.0751 1)" font-size="16.24" font-weight="400" fill="#161616" stroke="#161616" stroke-width="0.25" stroke-linejoin="round">forecast</text>
<text transform="translate(170.29 462.38) scale(1.0955 1)" font-size="16.24" font-weight="400" fill="#161616" stroke="#161616" stroke-width="0.25" stroke-linejoin="round">period.</text>
<text transform="translate(341.95 210.18) scale(0.9787 1)" font-size="15.74" font-weight="400" fill="#000" stroke="#000" stroke-width="0.25" stroke-linejoin="round">12.1</text>
<text transform="translate(544.25 190.68) scale(0.9785 1)" font-size="15.74" font-weight="400" fill="#000" stroke="#000" stroke-width="0.25" stroke-linejoin="round">13.5</text>
<text transform="translate(749.46 137.07) scale(0.9724 1)" font-size="15.74" font-weight="400" fill="#000" stroke="#000" stroke-width="0.25" stroke-linejoin="round">16.8</text>
<text transform="translate(340.94 424.40) scale(1.2013 1)" font-size="16.21" font-weight="400" fill="#111" stroke="#111" stroke-width="0.2" stroke-linejoin="round">2022</text>
<text transform="translate(545.95 424.40) scale(1.1862 1)" font-size="16.21" font-weight="400" fill="#111" stroke="#111" stroke-width="0.2" stroke-linejoin="round">2023</text>
<text transform="translate(750.34 424.40) scale(1.1974 1)" font-size="16.21" font-weight="400" fill="#111" stroke="#111" stroke-width="0.2" stroke-linejoin="round">2028</text>
<text transform="translate(287.22 465.00) scale(1.0514 1)" font-size="16.01" font-weight="400" fill="#111" stroke="#111" stroke-width="0.2" stroke-linejoin="round">North America</text>
<text transform="translate(423.22 465.00) scale(1.0542 1)" font-size="16.01" font-weight="400" fill="#111" stroke="#111" stroke-width="0.2" stroke-linejoin="round">Europe</text>
<text transform="translate(505.37 465.00) scale(1.0171 1)" font-size="16.01" font-weight="400" fill="#111" stroke="#111" stroke-width="0.2" stroke-linejoin="round">Asia-Pacific</text>
<text transform="translate(617.92 465.00) scale(1.0521 1)" font-size="16.01" font-weight="400" fill="#111" stroke="#111" stroke-width="0.2" stroke-linejoin="round">Middle-East Africa</text>
<text transform="translate(782.71 465.00) scale(1.0613 1)" font-size="16.01" font-weight="400" fill="#111" stroke="#111" stroke-width="0.2" stroke-linejoin="round">Latin America</text>
<text transform="translate(643.93 181.80) scale(1.1112 1)" font-size="16.3" font-weight="700" fill="#ffffff">4.5</text>
<text transform="translate(669.66 181.80) scale(0.9093 1)" font-size="10.5" font-weight="700" fill="#ffffff">%</text>
</svg>
</body>
</html>
